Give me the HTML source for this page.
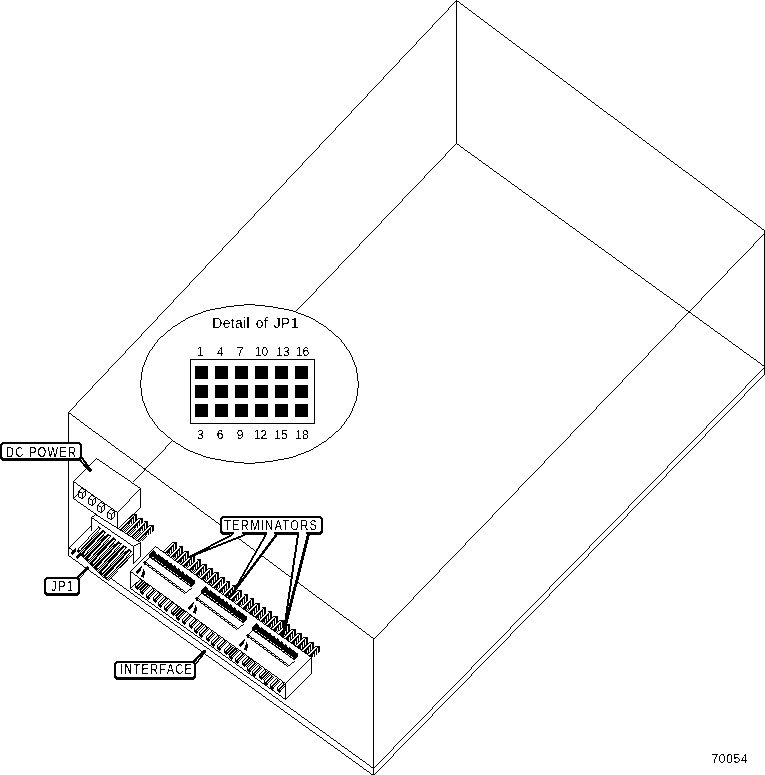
<!DOCTYPE html>
<html><head><meta charset="utf-8"><title>Detail of JP1</title>
<style>
html,body{margin:0;padding:0;background:#fff;}
body{width:765px;height:775px;overflow:hidden;}
svg{display:block;}
text{font-family:"Liberation Sans",sans-serif;fill:#000;stroke:none;filter:url(#crisp);}
</style></head><body>
<svg width="765" height="775" viewBox="0 0 765 775" shape-rendering="crispEdges">
<defs><filter id="crisp" x="-5%" y="-20%" width="110%" height="140%" color-interpolation-filters="sRGB"><feComponentTransfer><feFuncA type="discrete" tableValues="0 0 1 1"/></feComponentTransfer></filter></defs>
<rect x="0" y="0" width="765" height="775" fill="#fff"/>
<g id="enclosure">
<path d="M456 0h1m-2 1h4m-5 1h1m1 0h1m2 0h1m-7 1h1m2 0h1m3 0h1m-9 1h1m3 0h1m4 0h2m-12 1h1m4 0h1m6 0h1m-14 1h1m5 0h1m7 0h1m-16 1h1m6 0h1m8 0h2m-19 1h1m7 0h1m10 0h1m-20 1h1m7 0h1m11 0h1m-22 1h1m8 0h1m12 0h2m-25 1h1m9 0h1m14 0h1m-27 1h1m10 0h1m15 0h1m-29 1h1m11 0h1m16 0h2m-32 1h1m12 0h1m18 0h1m-34 1h1m13 0h1m19 0h1m-36 1h1m14 0h1m20 0h2m-39 1h1m15 0h1m22 0h1m-41 1h1m16 0h1m23 0h1m-43 1h1m17 0h1m24 0h2m-46 1h1m18 0h1m26 0h1m-48 1h1m19 0h1m27 0h1m-50 1h1m20 0h1m28 0h2m-53 1h1m21 0h1m30 0h1m-55 1h1m22 0h1m31 0h1m-57 1h1m23 0h1m32 0h2m-59 1h1m23 0h1m34 0h1m-61 1h1m24 0h1m35 0h1m-63 1h1m25 0h1m36 0h2m-66 1h1m26 0h1m38 0h1m-68 1h1m27 0h1m39 0h1m-70 1h1m28 0h1m40 0h2m-73 1h1m29 0h1m42 0h1m-75 1h1m30 0h1m43 0h1m-77 1h1m31 0h1m44 0h2m-80 1h1m32 0h1m46 0h1m-82 1h1m33 0h1m47 0h1m-84 1h1m34 0h1m48 0h2m-87 1h1m35 0h1m50 0h1m-89 1h1m36 0h1m51 0h1m-91 1h1m37 0h1m52 0h2m-94 1h1m38 0h1m54 0h1m-96 1h1m39 0h1m55 0h1m-97 1h1m39 0h1m56 0h2m-100 1h1m40 0h1m58 0h1m-102 1h1m41 0h1m59 0h1m-104 1h1m42 0h1m60 0h2m-107 1h1m43 0h1m62 0h1m-109 1h1m44 0h1m63 0h1m-111 1h1m45 0h1m64 0h2m-114 1h1m46 0h1m66 0h1m-116 1h1m47 0h1m67 0h1m-118 1h1m48 0h1m68 0h2m-121 1h1m49 0h1m70 0h1m-123 1h1m50 0h1m71 0h1m-125 1h1m51 0h1m72 0h2m-128 1h1m52 0h1m74 0h1m-130 1h1m53 0h1m75 0h2m-133 1h1m54 0h1m77 0h1m-135 1h1m55 0h1m78 0h1m-137 1h1m56 0h1m79 0h2m-139 1h1m56 0h1m81 0h1m-141 1h1m57 0h1m82 0h1m-143 1h1m58 0h1m83 0h2m-146 1h1m59 0h1m85 0h1m-148 1h1m60 0h1m86 0h1m-150 1h1m61 0h1m87 0h2m-153 1h1m62 0h1m89 0h1m-155 1h1m63 0h1m90 0h1m-157 1h1m64 0h1m91 0h2m-160 1h1m65 0h1m93 0h1m-162 1h1m66 0h1m94 0h1m-164 1h1m67 0h1m95 0h2m-167 1h1m68 0h1m97 0h1m-169 1h1m69 0h1m98 0h1m-171 1h1m70 0h1m99 0h2m-174 1h1m71 0h1m101 0h1m-176 1h1m72 0h1m102 0h1m-177 1h1m72 0h1m103 0h2m-180 1h1m73 0h1m105 0h1m-182 1h1m74 0h1m106 0h1m-184 1h1m75 0h1m107 0h2m-187 1h1m76 0h1m109 0h1m-189 1h1m77 0h1m110 0h1m-191 1h1m78 0h1m111 0h2m-194 1h1m79 0h1m113 0h1m-196 1h1m80 0h1m114 0h1m-198 1h1m81 0h1m115 0h2m-201 1h1m82 0h1m117 0h1m-203 1h1m83 0h1m118 0h1m-205 1h1m84 0h1m119 0h2m-208 1h1m85 0h1m121 0h1m-210 1h1m86 0h1m122 0h1m-212 1h1m87 0h1m123 0h2m-215 1h1m88 0h1m125 0h1m-216 1h1m88 0h1m126 0h1m-218 1h1m89 0h1m127 0h2m-221 1h1m90 0h1m129 0h1m-223 1h1m91 0h1m130 0h1m-225 1h1m92 0h1m131 0h2m-228 1h1m93 0h1m133 0h1m-230 1h1m94 0h1m134 0h1m-232 1h1m95 0h1m135 0h2m-235 1h1m96 0h1m137 0h1m-237 1h1m97 0h1m138 0h1m-239 1h1m98 0h1m139 0h2m-242 1h1m99 0h1m141 0h1m-244 1h1m100 0h1m142 0h1m-246 1h1m101 0h1m143 0h2m-249 1h1m102 0h1m145 0h1m-251 1h1m103 0h1m146 0h1m-253 1h1m104 0h1m147 0h2m-255 1h1m104 0h1m149 0h1m-257 1h1m105 0h1m150 0h1m-259 1h1m106 0h1m151 0h2m-262 1h1m107 0h1m153 0h1m-264 1h1m108 0h1m154 0h2m-267 1h1m109 0h1m156 0h1m-269 1h1m110 0h1m157 0h1m-271 1h1m111 0h1m158 0h2m-274 1h1m112 0h1m160 0h1m-276 1h1m113 0h1m161 0h1m-278 1h1m114 0h1m162 0h2m-281 1h1m115 0h1m164 0h1m-283 1h1m116 0h1m165 0h1m-285 1h1m117 0h1m166 0h2m-288 1h1m118 0h1m168 0h1m-290 1h1m119 0h1m169 0h1m-292 1h1m120 0h1m170 0h2m-294 1h1m120 0h1m172 0h1m-296 1h1m121 0h1m173 0h1m-298 1h1m122 0h1m174 0h2m-301 1h1m123 0h1m176 0h1m-303 1h1m124 0h1m177 0h1m-305 1h1m125 0h1m178 0h2m-308 1h1m126 0h1m180 0h1m-310 1h1m127 0h1m181 0h1m-312 1h1m128 0h1m182 0h2m-315 1h1m129 0h1m184 0h1m-317 1h1m130 0h1m185 0h1m-319 1h1m131 0h1m186 0h2m-322 1h1m132 0h1m188 0h1m-324 1h1m133 0h1m189 0h1m-326 1h1m134 0h1m190 0h2m-329 1h1m134 0h1m1 0h2m190 0h1m-331 1h1m134 0h1m4 0h1m190 0h1m-332 1h1m133 0h1m6 0h1m190 0h2m-335 1h1m133 0h1m8 0h2m190 0h1m-337 1h1m133 0h1m11 0h1m190 0h1m-339 1h1m133 0h1m13 0h1m190 0h2m-342 1h1m133 0h1m15 0h2m190 0h1m-344 1h1m133 0h1m18 0h1m190 0h1m-346 1h1m133 0h1m20 0h2m189 0h2m-349 1h1m133 0h1m23 0h1m190 0h1m-351 1h1m133 0h1m25 0h1m190 0h1m-353 1h1m134 0h1m26 0h2m189 0h2m-356 1h1m134 0h1m29 0h1m190 0h1m-358 1h1m134 0h1m31 0h2m189 0h1m-360 1h1m134 0h1m34 0h1m189 0h2m-363 1h1m134 0h1m36 0h1m190 0h1m-365 1h1m134 0h1m38 0h2m189 0h1m-367 1h1m134 0h1m41 0h1m189 0h2m-370 1h1m134 0h1m43 0h1m190 0h1m-372 1h1m134 0h1m45 0h2m189 0h1m-373 1h1m133 0h1m48 0h1m189 0h2m-376 1h1m133 0h1m50 0h2m189 0h1m-378 1h1m133 0h1m53 0h1m189 0h1m-380 1h1m133 0h1m55 0h1m189 0h2m-383 1h1m133 0h1m57 0h2m189 0h1m-385 1h1m133 0h1m60 0h1m189 0h1m-387 1h1m133 0h1m62 0h1m189 0h2m-390 1h1m133 0h1m64 0h2m189 0h1m-392 1h1m133 0h1m67 0h1m189 0h2m-395 1h1m133 0h1m69 0h2m189 0h1m-397 1h1m133 0h1m72 0h1m189 0h1m-399 1h1m133 0h1m74 0h1m189 0h2m-402 1h1m133 0h1m76 0h2m189 0h1m-404 1h1m134 0h1m78 0h1m189 0h1m-406 1h1m134 0h1m80 0h2m188 0h2m-409 1h1m134 0h1m83 0h1m189 0h1m-411 1h1m134 0h1m85 0h1m189 0h1m-412 1h1m133 0h1m87 0h2m188 0h2m-415 1h1m133 0h1m90 0h1m189 0h1m-417 1h1m133 0h1m92 0h1m189 0h1m-419 1h1m133 0h1m94 0h2m188 0h2m-422 1h1m133 0h1m97 0h1m189 0h1m-424 1h1m133 0h1m99 0h2m188 0h1m-426 1h1m133 0h1m102 0h1m188 0h2m-429 1h1m133 0h1m104 0h1m189 0h1m-431 1h1m133 0h1m106 0h2m188 0h1m-433 1h1m133 0h1m109 0h1m188 0h2m-436 1h1m133 0h1m111 0h1m189 0h1m-438 1h1m133 0h1m113 0h2m188 0h1m-440 1h1m133 0h1m116 0h1m188 0h2m-443 1h1m133 0h1m118 0h2m188 0h1m-445 1h1m133 0h1m121 0h1m188 0h1m-447 1h1m133 0h1m123 0h1m188 0h2m-450 1h1m133 0h1m125 0h2m188 0h1m-451 1h1m132 0h1m128 0h1m188 0h1m-453 1h1m132 0h1m130 0h2m187 0h2m-456 1h1m133 0h1m132 0h1m188 0h1m-458 1h1m133 0h1m134 0h1m188 0h1m-460 1h1m133 0h1m136 0h2m187 0h2m-463 1h1m133 0h1m139 0h1m188 0h1m-465 1h1m133 0h1m141 0h1m188 0h1m-467 1h1m133 0h1m143 0h2m187 0h2m-470 1h1m133 0h1m146 0h1m188 0h1m-472 1h1m133 0h1m148 0h2m187 0h1m-474 1h1m133 0h1m151 0h1m187 0h2m-477 1h1m133 0h1m153 0h1m188 0h1m-479 1h1m133 0h1m155 0h2m187 0h1m-481 1h1m133 0h1m158 0h1m187 0h2m-484 1h1m133 0h1m160 0h1m188 0h1m-486 1h1m133 0h1m162 0h2m187 0h1m-488 1h1m133 0h1m165 0h1m187 0h2m-490 1h1m132 0h1m167 0h2m187 0h1m-492 1h1m132 0h1m170 0h1m187 0h1m-494 1h1m132 0h1m172 0h1m187 0h2m-497 1h1m132 0h1m174 0h2m187 0h1m-499 1h1m132 0h1m177 0h1m187 0h1m-501 1h1m132 0h1m179 0h2m186 0h2m-504 1h1m132 0h1m182 0h1m187 0h1m-506 1h1m133 0h1m183 0h1m187 0h1m-508 1h1m133 0h1m185 0h2m186 0h2m-511 1h1m133 0h1m188 0h1m187 0h1m-513 1h1m133 0h1m190 0h1m187 0h1m-515 1h1m133 0h1m192 0h2m186 0h2m-518 1h1m133 0h1m195 0h1m187 0h1m-520 1h1m133 0h1m197 0h2m186 0h1m-522 1h1m133 0h1m200 0h1m186 0h2m-525 1h1m133 0h1m202 0h1m187 0h1m-527 1h1m133 0h1m204 0h2m185 0h1m1 0h1m-529 1h1m132 0h1m207 0h1m184 0h2m-529 1h1m132 0h1m209 0h1m183 0h1m-529 1h1m132 0h1m211 0h2m180 0h2m-530 1h1m132 0h1m214 0h1m178 0h1m1 0h1m-531 1h1m132 0h1m216 0h2m175 0h1m2 0h1m-532 1h1m132 0h1m219 0h1m173 0h1m3 0h1m-533 1h1m132 0h1m221 0h1m171 0h1m4 0h1m-534 1h1m132 0h1m223 0h2m168 0h1m5 0h1m-535 1h1m132 0h1m226 0h1m166 0h1m6 0h1m-536 1h1m132 0h1m228 0h2m163 0h1m7 0h1m-537 1h1m132 0h1m231 0h1m161 0h1m8 0h1m-538 1h1m132 0h1m233 0h1m159 0h1m9 0h1m-539 1h1m132 0h1m235 0h2m156 0h1m10 0h1m-540 1h1m133 0h1m237 0h1m155 0h1m10 0h1m-541 1h1m133 0h1m239 0h1m153 0h1m11 0h1m-542 1h1m133 0h1m241 0h2m150 0h1m12 0h1m-543 1h1m133 0h1m244 0h1m148 0h1m13 0h1m-543 1h1m132 0h1m246 0h2m145 0h1m14 0h1m-544 1h1m132 0h1m249 0h1m143 0h1m15 0h1m-545 1h1m132 0h1m251 0h1m141 0h1m16 0h1m-546 1h1m132 0h1m253 0h2m138 0h1m17 0h1m-547 1h1m132 0h1m256 0h1m136 0h1m18 0h1m-548 1h1m132 0h1m258 0h2m133 0h1m19 0h1m-549 1h1m132 0h1m261 0h1m131 0h1m20 0h1m-550 1h1m132 0h1m263 0h1m129 0h1m21 0h1m-551 1h1m132 0h1m265 0h2m126 0h1m22 0h1m-552 1h1m132 0h1m268 0h1m124 0h1m23 0h1m-553 1h1m132 0h1m270 0h1m122 0h1m24 0h1m-554 1h1m132 0h1m272 0h2m119 0h1m25 0h1m-555 1h1m132 0h1m275 0h1m117 0h1m26 0h1m-556 1h1m132 0h1m277 0h2m114 0h1m27 0h1m-557 1h1m132 0h1m280 0h1m112 0h1m28 0h1m-558 1h1m132 0h1m282 0h1m110 0h1m29 0h1m-559 1h1m132 0h1m284 0h2m107 0h1m30 0h1m-560 1h1m132 0h1m287 0h1m105 0h1m31 0h1m-560 1h1m132 0h1m288 0h1m103 0h1m32 0h1m-561 1h1m132 0h1m290 0h2m100 0h1m33 0h1m-562 1h1m132 0h1m293 0h1m98 0h1m34 0h1m-563 1h1m132 0h1m295 0h2m95 0h1m35 0h1m-564 1h1m132 0h1m298 0h1m93 0h1m36 0h1m-565 1h1m132 0h1m300 0h1m92 0h1m36 0h1m-566 1h1m132 0h1m302 0h2m89 0h1m37 0h1m-567 1h1m132 0h1m305 0h1m87 0h1m38 0h1m-568 1h1m132 0h1m307 0h2m84 0h1m39 0h1m-569 1h1m132 0h1m310 0h1m82 0h1m40 0h1m-570 1h1m132 0h1m312 0h1m80 0h1m41 0h1m-571 1h1m132 0h1m314 0h2m77 0h1m42 0h1m-572 1h1m132 0h1m317 0h1m75 0h1m43 0h1m-573 1h1m132 0h1m319 0h1m73 0h1m44 0h1m-574 1h1m132 0h1m321 0h2m70 0h1m45 0h1m-575 1h1m132 0h1m324 0h1m68 0h1m46 0h1m-576 1h1m132 0h1m326 0h2m65 0h1m47 0h1m-576 1h1m131 0h1m329 0h1m63 0h1m48 0h1m-577 1h1m131 0h1m331 0h1m61 0h1m49 0h1m-578 1h1m131 0h1m333 0h2m58 0h1m50 0h1m-579 1h1m131 0h1m336 0h1m56 0h1m51 0h1m-580 1h1m131 0h1m338 0h1m54 0h1m52 0h1m-581 1h1m131 0h1m340 0h2m51 0h1m53 0h1m-582 1h1m132 0h1m342 0h1m49 0h1m54 0h1m-583 1h1m132 0h1m344 0h2m46 0h1m55 0h1m-584 1h1m132 0h1m347 0h1m44 0h1m56 0h1m-585 1h1m132 0h1m349 0h1m42 0h1m57 0h1m-586 1h1m132 0h1m351 0h2m39 0h1m58 0h1m-587 1h1m132 0h1m354 0h1m37 0h1m59 0h1m-588 1h1m132 0h1m356 0h2m34 0h1m60 0h1m-589 1h1m132 0h1m359 0h1m32 0h1m61 0h1m-590 1h1m132 0h1m361 0h1m30 0h1m62 0h1m-591 1h1m132 0h1m363 0h2m28 0h1m62 0h1m-592 1h1m132 0h1m366 0h1m26 0h1m63 0h1m-592 1h1m131 0h1m368 0h1m24 0h1m64 0h1m-593 1h1m131 0h1m370 0h2m21 0h1m65 0h1m-594 1h1m131 0h1m373 0h1m19 0h1m66 0h1m-595 1h1m131 0h1m375 0h2m16 0h1m67 0h1m-596 1h1m131 0h1m378 0h1m14 0h1m68 0h1m-597 1h1m131 0h1m380 0h1m12 0h1m69 0h1m-598 1h1m131 0h1m382 0h2m9 0h1m70 0h1m-599 1h1m131 0h1m385 0h1m7 0h1m71 0h1m-600 1h1m131 0h1m387 0h1m5 0h1m72 0h1m-601 1h1m131 0h1m389 0h2m2 0h1m73 0h1m-602 1h1m131 0h1m392 0h2m74 0h1m-603 1h1m132 0h1m392 0h3m73 0h1m-604 1h1m132 0h1m392 0h1m3 0h1m72 0h1m-605 1h1m132 0h1m392 0h1m5 0h1m71 0h1m-606 1h1m132 0h1m392 0h1m7 0h2m69 0h1m-607 1h1m132 0h1m392 0h1m10 0h1m68 0h1m-608 1h1m132 0h1m392 0h1m12 0h2m66 0h1m-608 1h1m131 0h1m392 0h1m15 0h1m65 0h1m-609 1h1m131 0h1m392 0h1m17 0h1m64 0h1m-610 1h1m131 0h1m392 0h1m19 0h2m62 0h1m-611 1h1m131 0h1m392 0h1m22 0h1m61 0h1m-612 1h1m131 0h1m392 0h1m24 0h1m60 0h1m-613 1h1m131 0h1m392 0h1m26 0h2m58 0h1m-614 1h1m131 0h1m392 0h1m29 0h1m57 0h1m-615 1h1m131 0h1m392 0h1m31 0h2m55 0h1m-616 1h1m131 0h1m393 0h1m33 0h1m54 0h1m-617 1h1m131 0h1m393 0h1m35 0h1m53 0h1m-618 1h1m131 0h1m393 0h1m37 0h2m51 0h1m-619 1h1m131 0h1m393 0h1m40 0h1m50 0h1m-620 1h1m131 0h1m393 0h1m42 0h1m49 0h1m-621 1h1m131 0h1m393 0h1m44 0h2m47 0h1m-622 1h1m131 0h1m393 0h1m47 0h1m46 0h1m-623 1h1m131 0h1m393 0h1m49 0h2m44 0h1m-624 1h1m131 0h1m393 0h1m52 0h1m43 0h1m-624 1h1m131 0h1m392 0h1m54 0h1m42 0h1m-625 1h1m131 0h1m392 0h1m56 0h2m40 0h1m-626 1h1m131 0h1m392 0h1m59 0h1m39 0h1m-627 1h1m131 0h1m392 0h1m61 0h2m37 0h1m-628 1h1m131 0h1m392 0h1m64 0h1m36 0h1m-629 1h1m131 0h1m392 0h1m66 0h1m35 0h1m-630 1h1m131 0h1m392 0h1m68 0h2m33 0h1m-631 1h1m131 0h1m392 0h1m71 0h1m32 0h1m-632 1h1m131 0h1m392 0h1m73 0h1m31 0h1m-633 1h1m131 0h1m392 0h1m75 0h2m29 0h1m-634 1h1m131 0h1m392 0h1m78 0h1m28 0h1m-635 1h1m131 0h1m392 0h1m80 0h2m26 0h1m-636 1h1m131 0h1m392 0h1m83 0h1m25 0h1m-637 1h1m131 0h1m392 0h1m85 0h1m24 0h1m-638 1h1m131 0h1m392 0h1m87 0h2m22 0h1m-639 1h1m131 0h1m392 0h1m90 0h1m21 0h1m-640 1h1m131 0h1m392 0h1m92 0h1m20 0h1m-640 1h1m130 0h1m392 0h1m94 0h2m18 0h1m-641 1h1m130 0h1m392 0h1m97 0h1m17 0h1m-642 1h1m130 0h1m393 0h1m98 0h2m15 0h1m-643 1h1m130 0h1m393 0h1m101 0h1m14 0h1m-644 1h1m130 0h1m393 0h1m103 0h1m13 0h1m-645 1h1m130 0h1m393 0h1m105 0h2m11 0h1m-646 1h1m131 0h1m392 0h1m108 0h1m10 0h1m-647 1h1m131 0h1m392 0h1m110 0h2m8 0h1m-648 1h1m131 0h1m392 0h1m113 0h1m7 0h1m-649 1h1m131 0h1m392 0h1m115 0h1m6 0h1m-650 1h1m131 0h1m392 0h1m117 0h2m4 0h1m-651 1h1m131 0h1m392 0h1m120 0h1m3 0h1m-652 1h1m131 0h1m392 0h1m122 0h1m2 0h1m-653 1h1m131 0h1m392 0h1m124 0h3m-654 1h1m131 0h1m392 0h1m127 0h2m-656 1h1m131 0h1m392 0h1m128 0h1m-656 1h1m131 0h1m392 0h1m128 0h2m-657 1h1m131 0h1m392 0h1m128 0h1m1 0h1m-657 1h1m130 0h1m392 0h1m128 0h1m2 0h1m-658 1h1m130 0h1m392 0h1m128 0h1m3 0h1m-659 1h1m130 0h1m392 0h1m128 0h1m4 0h1m-660 1h1m130 0h1m392 0h1m128 0h1m5 0h1m-661 1h1m130 0h1m392 0h1m128 0h1m6 0h1m-662 1h1m130 0h1m392 0h1m128 0h1m6 0h1m-662 1h1m130 0h1m392 0h1m128 0h1m6 0h1m-662 1h1m130 0h1m392 0h1m128 0h1m6 0h1m-662 1h1m130 0h1m392 0h1m128 0h1m6 0h1m-662 1h1m130 0h1m392 0h1m128 0h1m6 0h1m-662 1h1m131 0h1m391 0h1m128 0h1m6 0h1m-662 1h1m131 0h1m392 0h1m127 0h1m6 0h1m-662 1h1m131 0h1m392 0h1m127 0h1m6 0h1m-662 1h1m131 0h1m392 0h1m127 0h1m6 0h1m-662 1h1m131 0h1m392 0h1m127 0h1m6 0h1m-662 1h1m131 0h1m392 0h1m127 0h1m6 0h1m-662 1h1m131 0h1m392 0h1m127 0h1m6 0h1m-661 1h1m130 0h1m392 0h1m128 0h1m5 0h1m-661 1h1m130 0h1m392 0h1m128 0h1m5 0h1m-661 1h1m130 0h1m392 0h1m128 0h1m5 0h1m-661 1h1m130 0h1m392 0h1m128 0h1m5 0h1m-661 1h1m130 0h1m392 0h1m128 0h1m5 0h1m-661 1h1m130 0h1m392 0h1m128 0h1m5 0h1m-661 1h1m130 0h1m392 0h1m128 0h1m5 0h1m-661 1h1m130 0h1m392 0h1m128 0h1m5 0h1m-661 1h1m130 0h1m392 0h1m128 0h1m6 0h1m-662 1h1m130 0h1m392 0h1m128 0h1m6 0h1m-662 1h1m130 0h1m392 0h1m128 0h1m6 0h1m-662 1h1m130 0h1m392 0h1m128 0h1m6 0h1m-662 1h1m130 0h1m392 0h1m128 0h1m6 0h1m-662 1h1m130 0h1m392 0h1m128 0h1m6 0h1m-662 1h1m130 0h1m392 0h1m128 0h1m6 0h1m-662 1h1m130 0h1m392 0h1m128 0h1m6 0h1m-662 1h1m131 0h1m391 0h1m128 0h1m6 0h1m-661 1h1m130 0h1m391 0h1m128 0h1m6 0h1m-661 1h1m130 0h1m391 0h1m128 0h1m6 0h1m-661 1h1m130 0h1m391 0h1m128 0h1m6 0h1m-661 1h1m130 0h1m391 0h1m128 0h1m6 0h1m-661 1h1m130 0h1m392 0h1m127 0h1m6 0h1m-661 1h1m130 0h1m392 0h1m127 0h1m6 0h1m-661 1h1m130 0h1m392 0h1m127 0h1m6 0h1m-661 1h1m130 0h1m392 0h1m127 0h1m6 0h1m-661 1h1m130 0h1m392 0h1m127 0h1m6 0h1m-660 1h3m127 0h1m392 0h1m127 0h1m6 0h1m-659 1h1m2 0h1m125 0h1m392 0h1m127 0h1m6 0h1m-658 1h1m3 0h1m123 0h1m392 0h1m127 0h1m6 0h1m-657 1h1m4 0h2m120 0h1m392 0h1m127 0h1m6 0h1m-656 1h1m6 0h1m118 0h1m392 0h1m127 0h1m6 0h1m-655 1h1m7 0h1m116 0h1m392 0h1m127 0h1m6 0h1m-654 1h1m8 0h2m113 0h1m392 0h1m127 0h1m6 0h1m-653 1h1m10 0h1m111 0h1m392 0h1m127 0h1m6 0h1m-652 1h1m11 0h1m109 0h1m392 0h1m127 0h1m6 0h1m-651 1h1m12 0h2m106 0h1m392 0h1m127 0h1m6 0h1m-650 1h1m14 0h1m104 0h1m392 0h1m127 0h1m6 0h1m-649 1h1m15 0h1m102 0h1m392 0h1m127 0h1m6 0h1m-648 1h1m16 0h2m100 0h1m391 0h1m127 0h1m6 0h1m-647 1h1m18 0h1m98 0h1m391 0h1m127 0h1m6 0h1m-646 1h1m19 0h1m96 0h1m391 0h1m128 0h1m5 0h1m-645 1h1m20 0h2m93 0h1m391 0h1m128 0h1m5 0h1m-644 1h1m22 0h1m91 0h1m391 0h1m128 0h1m5 0h1m-643 1h1m23 0h1m89 0h1m391 0h1m128 0h1m5 0h1m-642 1h1m24 0h2m86 0h1m391 0h1m128 0h1m5 0h1m-641 1h1m26 0h1m84 0h1m391 0h1m128 0h1m5 0h1m-640 1h1m27 0h2m81 0h1m391 0h1m128 0h1m5 0h1m-639 1h1m29 0h1m79 0h1m391 0h1m128 0h1m5 0h1m-638 1h1m30 0h1m77 0h1m392 0h1m127 0h1m6 0h1m-638 1h1m31 0h2m74 0h1m392 0h1m127 0h1m6 0h1m-637 1h1m33 0h1m72 0h1m392 0h1m127 0h1m6 0h1m-636 1h1m34 0h1m70 0h1m392 0h1m127 0h1m6 0h1m-635 1h1m35 0h2m67 0h1m392 0h1m127 0h1m6 0h1m-634 1h1m37 0h1m65 0h1m392 0h1m127 0h1m6 0h1m-633 1h1m38 0h1m63 0h1m392 0h1m127 0h1m6 0h1m-632 1h1m39 0h2m60 0h1m392 0h1m127 0h1m6 0h1m-631 1h1m41 0h1m58 0h1m392 0h1m127 0h1m6 0h1m-630 1h1m42 0h1m56 0h1m392 0h1m127 0h1m6 0h1m-629 1h1m43 0h2m53 0h1m392 0h1m127 0h1m6 0h1m-628 1h1m45 0h1m51 0h1m392 0h1m127 0h1m6 0h1m-627 1h1m46 0h1m49 0h1m392 0h1m127 0h1m6 0h1m-626 1h1m47 0h2m47 0h1m391 0h1m127 0h1m6 0h1m-625 1h1m49 0h1m45 0h1m391 0h1m127 0h1m6 0h1m-624 1h1m50 0h1m43 0h1m391 0h1m127 0h1m6 0h1m-623 1h1m51 0h2m40 0h1m391 0h1m127 0h1m6 0h1m-622 1h1m53 0h1m38 0h1m391 0h1m127 0h1m6 0h1m-621 1h1m54 0h2m35 0h1m391 0h1m127 0h1m6 0h1m-620 1h1m56 0h1m33 0h1m391 0h1m127 0h1m6 0h1m-619 1h1m57 0h1m31 0h1m391 0h1m127 0h1m6 0h1m-618 1h1m58 0h2m28 0h1m391 0h1m127 0h1m6 0h1m-617 1h1m60 0h1m26 0h1m391 0h1m127 0h1m6 0h1m-616 1h1m61 0h1m24 0h1m391 0h1m127 0h1m6 0h1m-615 1h1m62 0h2m21 0h1m391 0h1m127 0h1m6 0h1m-614 1h1m64 0h1m19 0h1m391 0h1m127 0h1m6 0h1m-613 1h1m65 0h1m17 0h1m391 0h1m127 0h1m6 0h1m-612 1h1m66 0h2m14 0h1m392 0h1m126 0h1m6 0h1m-611 1h1m68 0h1m12 0h1m392 0h1m126 0h1m6 0h1m-610 1h1m69 0h1m10 0h1m392 0h1m126 0h1m6 0h1m-609 1h1m70 0h2m7 0h1m392 0h1m126 0h1m6 0h1m-608 1h1m72 0h1m5 0h1m392 0h1m126 0h1m6 0h1m-607 1h1m73 0h1m3 0h1m392 0h1m127 0h1m5 0h1m-606 1h1m74 0h3m392 0h1m127 0h1m5 0h1m-605 1h1m75 0h2m391 0h1m127 0h1m5 0h1m-604 1h1m75 0h1m1 0h1m389 0h1m127 0h1m5 0h1m-603 1h1m74 0h1m3 0h2m386 0h1m127 0h1m5 0h1m-602 1h1m73 0h1m6 0h1m384 0h1m127 0h1m5 0h1m-601 1h1m72 0h1m8 0h1m382 0h1m127 0h1m5 0h1m-600 1h1m71 0h1m10 0h2m379 0h1m127 0h1m5 0h1m-599 1h1m70 0h1m13 0h1m377 0h1m127 0h1m6 0h1m-599 1h1m69 0h1m15 0h2m374 0h1m127 0h1m6 0h1m-598 1h1m68 0h1m18 0h1m372 0h1m127 0h1m6 0h1m-597 1h1m67 0h1m20 0h1m370 0h1m127 0h1m6 0h1m-596 1h1m66 0h1m22 0h2m367 0h1m127 0h1m6 0h1m-595 1h1m65 0h1m25 0h1m365 0h1m127 0h1m6 0h1m-594 1h1m64 0h1m27 0h1m363 0h1m127 0h1m6 0h1m-593 1h1m93 0h2m360 0h1m127 0h1m6 0h1m-592 1h1m95 0h1m358 0h1m127 0h1m6 0h1m-591 1h1m96 0h1m356 0h1m127 0h1m6 0h1m-590 1h1m97 0h2m353 0h1m127 0h1m6 0h1m-589 1h1m99 0h1m351 0h1m127 0h1m6 0h1m-588 1h1m100 0h1m349 0h1m127 0h1m6 0h1m-587 1h1m101 0h2m346 0h1m127 0h1m6 0h1m-586 1h1m103 0h1m345 0h1m126 0h1m6 0h1m-585 1h1m104 0h1m343 0h1m126 0h1m6 0h1m-584 1h1m105 0h2m340 0h1m126 0h1m6 0h1m-583 1h1m107 0h1m338 0h1m126 0h1m6 0h1m-582 1h1m108 0h1m336 0h1m126 0h1m6 0h1m-581 1h1m109 0h2m333 0h1m126 0h1m6 0h1m-580 1h1m111 0h1m331 0h1m126 0h1m6 0h1m-579 1h1m112 0h2m328 0h1m126 0h1m6 0h1m-578 1h1m114 0h1m326 0h1m126 0h1m6 0h1m-577 1h1m115 0h1m324 0h1m126 0h1m6 0h1m-576 1h1m116 0h2m321 0h1m126 0h1m6 0h1m-575 1h1m118 0h1m319 0h1m126 0h1m6 0h1m-574 1h1m119 0h1m317 0h1m126 0h1m6 0h1m-573 1h1m120 0h2m314 0h1m126 0h1m6 0h1m-572 1h1m122 0h1m312 0h1m126 0h1m6 0h1m-571 1h1m123 0h1m310 0h1m126 0h1m6 0h1m-570 1h1m124 0h2m307 0h1m126 0h1m6 0h1m-569 1h1m126 0h1m305 0h1m126 0h1m6 0h1m-568 1h1m127 0h1m303 0h1m127 0h1m5 0h1m-567 1h1m128 0h2m300 0h1m127 0h1m5 0h1m-566 1h1m130 0h1m298 0h1m127 0h1m5 0h1m-565 1h1m131 0h1m296 0h1m127 0h1m5 0h1m-564 1h1m132 0h2m293 0h1m127 0h1m5 0h1m-563 1h1m134 0h1m291 0h1m127 0h1m5 0h1m-562 1h1m135 0h1m289 0h1m127 0h1m5 0h1m-561 1h1m136 0h2m286 0h1m127 0h1m5 0h1m-560 1h1m138 0h1m284 0h1m127 0h1m6 0h1m-560 1h1m139 0h2m282 0h1m126 0h1m6 0h1m-559 1h1m141 0h1m280 0h1m126 0h1m6 0h1m-558 1h1m142 0h1m278 0h1m126 0h1m6 0h1m-557 1h1m143 0h2m275 0h1m126 0h1m6 0h1m-556 1h1m145 0h1m273 0h1m126 0h1m6 0h1m-555 1h1m146 0h1m271 0h1m126 0h1m6 0h1m-554 1h1m147 0h2m268 0h1m126 0h1m6 0h1m-553 1h1m149 0h1m266 0h1m126 0h1m6 0h1m-552 1h1m150 0h1m264 0h1m126 0h1m6 0h1m-551 1h1m151 0h2m261 0h1m126 0h1m6 0h1m-550 1h1m153 0h1m259 0h1m126 0h1m6 0h1m-549 1h1m154 0h1m257 0h1m126 0h1m6 0h1m-548 1h1m155 0h2m254 0h1m126 0h1m6 0h1m-547 1h1m157 0h1m252 0h1m126 0h1m6 0h1m-546 1h1m158 0h1m250 0h1m126 0h1m6 0h1m-545 1h1m159 0h2m247 0h1m126 0h1m6 0h1m-544 1h1m161 0h1m245 0h1m126 0h1m6 0h1m-543 1h1m162 0h1m243 0h1m126 0h1m6 0h1m-542 1h1m163 0h2m240 0h1m126 0h1m6 0h1m-541 1h1m165 0h1m238 0h1m126 0h1m6 0h1m-540 1h1m166 0h2m235 0h1m126 0h1m6 0h1m-539 1h1m168 0h1m233 0h1m126 0h1m6 0h1m-538 1h1m169 0h1m231 0h1m126 0h1m6 0h1m-537 1h1m170 0h2m228 0h1m126 0h1m6 0h1m-536 1h1m172 0h1m226 0h1m126 0h1m6 0h1m-535 1h1m173 0h1m224 0h1m126 0h1m6 0h1m-534 1h1m174 0h2m221 0h1m126 0h1m6 0h1m-533 1h1m176 0h1m219 0h1m126 0h1m6 0h1m-532 1h1m177 0h1m218 0h1m125 0h1m6 0h1m-531 1h1m178 0h2m215 0h1m125 0h1m6 0h1m-530 1h1m180 0h1m213 0h1m125 0h1m6 0h1m-529 1h1m181 0h1m211 0h1m126 0h1m5 0h1m-528 1h3m180 0h2m208 0h1m126 0h1m5 0h1m-527 1h1m2 0h1m181 0h1m206 0h1m126 0h1m5 0h1m-526 1h1m3 0h1m181 0h1m204 0h1m126 0h1m5 0h1m-525 1h1m4 0h2m180 0h2m201 0h1m126 0h1m5 0h1m-524 1h1m6 0h1m181 0h1m199 0h1m126 0h1m5 0h1m-523 1h1m7 0h1m181 0h1m197 0h1m126 0h1m5 0h1m-522 1h1m8 0h2m180 0h2m194 0h1m126 0h1m5 0h1m-521 1h1m10 0h1m181 0h1m192 0h1m126 0h1m6 0h1m-520 1h2m9 0h2m180 0h2m189 0h1m126 0h1m6 0h1m-517 1h1m10 0h1m181 0h1m187 0h1m126 0h1m6 0h1m-515 1h1m10 0h1m181 0h1m185 0h1m126 0h1m6 0h1m-513 1h2m9 0h2m180 0h2m182 0h1m126 0h1m6 0h1m-510 1h1m10 0h1m181 0h1m180 0h1m126 0h1m6 0h1m-508 1h2m9 0h2m180 0h1m178 0h1m126 0h1m6 0h1m-505 1h1m10 0h1m180 0h2m175 0h1m126 0h1m6 0h1m-503 1h1m10 0h1m181 0h1m173 0h1m126 0h1m6 0h1m-501 1h2m9 0h2m180 0h1m171 0h1m126 0h1m6 0h1m-498 1h1m10 0h1m180 0h2m168 0h1m126 0h1m6 0h1m-496 1h1m10 0h1m181 0h1m166 0h1m126 0h1m6 0h1m-494 1h2m9 0h2m180 0h1m164 0h1m126 0h1m6 0h1m-491 1h1m10 0h1m180 0h2m161 0h1m126 0h1m6 0h1m-489 1h2m9 0h2m180 0h1m159 0h1m126 0h1m6 0h1m-486 1h1m10 0h1m180 0h1m157 0h1m126 0h1m6 0h1m-484 1h1m10 0h1m180 0h2m155 0h1m125 0h1m6 0h1m-482 1h2m9 0h2m180 0h1m153 0h1m125 0h1m6 0h1m-479 1h1m10 0h1m180 0h1m151 0h1m125 0h1m6 0h1m-477 1h2m9 0h1m180 0h2m148 0h1m125 0h1m6 0h1m-474 1h1m9 0h2m180 0h1m146 0h1m125 0h1m6 0h1m-472 1h1m10 0h1m180 0h2m143 0h1m125 0h1m6 0h1m-470 1h2m9 0h2m180 0h1m141 0h1m125 0h1m6 0h1m-467 1h1m10 0h1m180 0h1m139 0h1m125 0h1m6 0h1m-465 1h1m10 0h1m180 0h2m136 0h1m125 0h1m6 0h1m-463 1h2m9 0h2m180 0h1m134 0h1m125 0h1m6 0h1m-460 1h1m10 0h1m180 0h1m132 0h1m125 0h1m6 0h1m-458 1h2m9 0h1m180 0h2m129 0h1m125 0h1m6 0h1m-455 1h1m9 0h2m180 0h1m127 0h1m125 0h1m6 0h1m-453 1h1m10 0h1m180 0h1m125 0h1m125 0h1m6 0h1m-451 1h2m9 0h2m179 0h2m122 0h1m125 0h1m6 0h1m-448 1h1m10 0h1m180 0h1m120 0h1m125 0h1m6 0h1m-446 1h2m9 0h1m180 0h1m118 0h1m125 0h1m6 0h1m-443 1h1m9 0h2m179 0h2m115 0h1m126 0h1m5 0h1m-441 1h1m10 0h1m180 0h1m113 0h1m126 0h1m5 0h1m-439 1h2m9 0h2m179 0h1m111 0h1m126 0h1m5 0h1m-436 1h1m10 0h1m179 0h2m108 0h1m126 0h1m5 0h1m-434 1h1m10 0h1m180 0h1m106 0h1m126 0h1m5 0h1m-432 1h2m9 0h2m179 0h1m104 0h1m126 0h1m5 0h1m-429 1h1m10 0h1m179 0h2m101 0h1m126 0h1m5 0h1m-427 1h2m9 0h1m180 0h1m99 0h1m126 0h1m6 0h1m-425 1h1m9 0h2m179 0h1m97 0h1m126 0h1m6 0h1m-423 1h1m10 0h1m179 0h2m94 0h1m126 0h1m6 0h1m-421 1h2m9 0h2m179 0h1m93 0h1m125 0h1m6 0h1m-418 1h1m10 0h1m179 0h2m90 0h1m125 0h1m6 0h1m-416 1h2m9 0h1m180 0h1m88 0h1m125 0h1m6 0h1m-413 1h1m9 0h2m179 0h1m86 0h1m125 0h1m6 0h1m-411 1h1m10 0h1m179 0h2m83 0h1m125 0h1m6 0h1m-409 1h2m9 0h1m180 0h1m81 0h1m125 0h1m6 0h1m-406 1h1m9 0h2m179 0h1m79 0h1m125 0h1m6 0h1m-404 1h2m9 0h1m179 0h2m76 0h1m125 0h1m6 0h1m-401 1h1m9 0h2m179 0h1m74 0h1m125 0h1m6 0h1m-399 1h1m10 0h1m179 0h1m72 0h1m125 0h1m6 0h1m-397 1h2m9 0h1m179 0h2m69 0h1m125 0h1m6 0h1m-394 1h1m9 0h2m179 0h1m67 0h1m125 0h1m6 0h1m-392 1h1m10 0h1m179 0h1m65 0h1m125 0h1m6 0h1m-390 1h2m9 0h2m178 0h2m62 0h1m125 0h1m6 0h1m-387 1h1m10 0h1m179 0h1m60 0h1m125 0h1m6 0h1m-385 1h2m9 0h1m179 0h1m58 0h1m125 0h1m6 0h1m-382 1h1m9 0h2m178 0h2m55 0h1m125 0h1m6 0h1m-380 1h1m10 0h1m179 0h1m53 0h1m125 0h1m6 0h1m-378 1h2m9 0h1m179 0h1m51 0h1m125 0h1m6 0h1m-375 1h1m9 0h2m178 0h2m48 0h1m125 0h1m6 0h1m-373 1h2m9 0h1m179 0h1m46 0h1m125 0h1m6 0h1m-370 1h1m9 0h2m178 0h2m43 0h1m125 0h1m6 0h1m-368 1h1m10 0h1m179 0h1m41 0h1m125 0h1m6 0h1m-366 1h2m9 0h1m179 0h1m39 0h1m125 0h1m6 0h1m-363 1h1m9 0h2m178 0h2m36 0h1m125 0h1m6 0h1m-361 1h1m10 0h1m179 0h1m34 0h1m125 0h1m6 0h1m-359 1h2m9 0h1m179 0h1m32 0h1m125 0h1m6 0h1m-356 1h1m9 0h2m178 0h2m30 0h1m124 0h1m6 0h1m-354 1h2m9 0h1m179 0h1m28 0h1m124 0h1m6 0h1m-351 1h1m9 0h2m178 0h1m26 0h1m124 0h1m6 0h1m-349 1h1m10 0h1m178 0h2m23 0h1m125 0h1m5 0h1m-347 1h2m9 0h1m179 0h1m21 0h1m125 0h1m5 0h1m-344 1h1m9 0h2m178 0h1m19 0h1m125 0h1m5 0h1m-342 1h2m9 0h1m178 0h2m16 0h1m125 0h1m5 0h1m-339 1h1m9 0h1m179 0h1m14 0h1m125 0h1m5 0h1m-337 1h1m9 0h2m178 0h1m12 0h1m125 0h1m5 0h1m-335 1h2m9 0h1m178 0h2m9 0h1m125 0h1m5 0h1m-332 1h1m9 0h2m178 0h1m7 0h1m125 0h1m6 0h1m-331 1h1m10 0h1m178 0h1m5 0h1m125 0h1m6 0h1m-329 1h2m9 0h1m178 0h2m2 0h1m125 0h1m6 0h1m-326 1h1m9 0h2m178 0h2m125 0h1m6 0h1m-324 1h2m9 0h1m177 0h1m125 0h1m6 0h1m-321 1h1m9 0h2m175 0h1m124 0h1m6 0h1m-319 1h1m10 0h1m174 0h1m123 0h1m6 0h1m-317 1h2m9 0h1m173 0h1m122 0h1m6 0h1m-314 1h1m9 0h2m171 0h1m121 0h1m6 0h1m-312 1h2m9 0h1m170 0h1m120 0h1m6 0h1m-309 1h1m9 0h1m169 0h1m119 0h1m6 0h1m-307 1h1m9 0h2m167 0h1m118 0h1m6 0h1m-305 1h2m9 0h1m166 0h1m117 0h1m6 0h1m-302 1h1m9 0h2m164 0h1m116 0h1m6 0h1m-300 1h2m9 0h1m163 0h1m115 0h1m6 0h1m-297 1h1m9 0h1m162 0h1m114 0h1m6 0h1m-295 1h1m9 0h2m160 0h1m113 0h1m6 0h1m-293 1h2m9 0h1m159 0h1m112 0h1m6 0h1m-290 1h1m9 0h1m158 0h1m111 0h1m6 0h1m-288 1h1m9 0h2m156 0h1m110 0h1m6 0h1m-286 1h2m9 0h1m155 0h1m109 0h1m6 0h1m-283 1h1m9 0h2m153 0h1m108 0h1m6 0h1m-281 1h2m9 0h1m152 0h1m107 0h1m6 0h1m-278 1h1m9 0h1m151 0h1m106 0h1m6 0h1m-276 1h1m9 0h2m149 0h1m105 0h1m6 0h1m-274 1h2m9 0h1m148 0h1m104 0h1m6 0h1m-271 1h1m9 0h2m146 0h1m103 0h1m6 0h1m-269 1h2m9 0h1m145 0h1m102 0h1m6 0h1m-266 1h1m9 0h1m144 0h1m101 0h1m6 0h1m-264 1h1m9 0h2m142 0h1m100 0h1m6 0h1m-262 1h2m9 0h1m141 0h1m99 0h1m6 0h1m-259 1h1m9 0h1m140 0h1m98 0h1m6 0h1m-257 1h1m9 0h2m138 0h1m97 0h1m6 0h1m-255 1h2m9 0h1m137 0h1m97 0h1m5 0h1m-252 1h1m9 0h2m135 0h1m96 0h1m5 0h1m-250 1h2m9 0h1m134 0h1m95 0h1m5 0h1m-247 1h1m9 0h1m133 0h1m94 0h1m5 0h1m-245 1h1m9 0h2m131 0h1m93 0h1m5 0h1m-243 1h2m9 0h1m130 0h1m92 0h1m5 0h1m-240 1h1m9 0h1m129 0h1m91 0h1m5 0h1m-238 1h2m8 0h2m127 0h1m90 0h1m6 0h1m-236 1h1m9 0h1m126 0h1m89 0h1m6 0h1m-234 1h1m9 0h2m124 0h1m88 0h1m6 0h1m-232 1h2m9 0h1m123 0h1m87 0h1m6 0h1m-229 1h1m9 0h1m122 0h1m86 0h1m6 0h1m-227 1h1m9 0h2m120 0h1m85 0h1m6 0h1m-225 1h2m9 0h1m119 0h1m84 0h1m6 0h1m-222 1h1m9 0h2m117 0h1m83 0h1m6 0h1m-220 1h2m9 0h1m116 0h1m82 0h1m6 0h1m-217 1h1m9 0h1m115 0h1m81 0h1m6 0h1m-215 1h1m9 0h2m113 0h1m80 0h1m6 0h1m-213 1h2m9 0h1m112 0h1m79 0h1m6 0h1m-210 1h1m9 0h1m111 0h1m78 0h1m6 0h1m-208 1h2m8 0h2m109 0h1m77 0h1m6 0h1m-205 1h1m9 0h1m108 0h1m76 0h1m6 0h1m-203 1h1m9 0h2m106 0h1m75 0h1m6 0h1m-201 1h2m9 0h1m105 0h1m74 0h1m6 0h1m-198 1h1m9 0h1m104 0h1m73 0h1m6 0h1m-196 1h2m8 0h2m102 0h1m72 0h1m6 0h1m-193 1h1m9 0h1m101 0h1m71 0h1m6 0h1m-191 1h1m9 0h1m100 0h1m70 0h1m6 0h1m-189 1h2m8 0h2m98 0h1m69 0h1m6 0h1m-186 1h1m9 0h1m97 0h1m68 0h1m6 0h1m-184 1h1m9 0h2m95 0h1m67 0h1m6 0h1m-182 1h2m9 0h1m94 0h1m66 0h1m6 0h1m-179 1h1m9 0h1m93 0h1m65 0h1m6 0h1m-177 1h2m8 0h2m91 0h1m64 0h1m6 0h1m-174 1h1m9 0h1m90 0h1m63 0h1m6 0h1m-172 1h1m9 0h1m89 0h1m62 0h1m6 0h1m-170 1h2m8 0h2m87 0h1m61 0h1m6 0h1m-167 1h1m9 0h1m86 0h1m60 0h1m6 0h1m-165 1h2m8 0h2m84 0h1m59 0h1m6 0h1m-162 1h1m9 0h1m83 0h1m58 0h1m6 0h1m-160 1h1m9 0h1m82 0h1m58 0h1m5 0h1m-158 1h2m8 0h2m80 0h1m57 0h1m5 0h1m-155 1h1m9 0h1m79 0h1m56 0h1m5 0h1m-153 1h1m9 0h2m77 0h1m55 0h1m5 0h1m-151 1h2m9 0h1m76 0h1m54 0h1m5 0h1m-148 1h1m9 0h1m75 0h1m53 0h1m5 0h1m-146 1h2m8 0h2m73 0h1m52 0h1m5 0h1m-143 1h1m9 0h1m72 0h1m51 0h1m6 0h1m-142 1h1m9 0h1m71 0h1m50 0h1m6 0h1m-140 1h2m8 0h2m69 0h1m49 0h1m6 0h1m-137 1h1m9 0h1m68 0h1m48 0h1m6 0h1m-135 1h2m8 0h2m66 0h1m47 0h1m6 0h1m-132 1h1m9 0h1m65 0h1m46 0h1m6 0h1m-130 1h1m9 0h1m64 0h1m45 0h1m6 0h1m-128 1h2m8 0h2m62 0h1m44 0h1m6 0h1m-125 1h1m9 0h1m61 0h1m43 0h1m6 0h1m-123 1h1m9 0h1m60 0h1m42 0h1m6 0h1m-121 1h2m8 0h2m58 0h1m41 0h1m6 0h1m-118 1h1m9 0h1m57 0h1m40 0h1m6 0h1m-116 1h2m8 0h2m55 0h1m39 0h1m6 0h1m-113 1h1m9 0h1m54 0h1m38 0h1m6 0h1m-111 1h1m9 0h1m53 0h1m37 0h1m6 0h1m-109 1h2m8 0h2m51 0h1m36 0h1m6 0h1m-106 1h1m9 0h1m50 0h1m35 0h1m6 0h1m-104 1h2m8 0h2m48 0h1m34 0h1m6 0h1m-101 1h1m9 0h1m47 0h1m33 0h1m6 0h1m-99 1h1m9 0h1m46 0h1m32 0h1m6 0h1m-97 1h2m8 0h2m44 0h1m31 0h1m6 0h1m-94 1h1m9 0h1m43 0h1m30 0h1m6 0h1m-92 1h2m8 0h1m42 0h1m29 0h1m6 0h1m-89 1h1m8 0h2m40 0h1m28 0h1m6 0h1m-87 1h1m9 0h1m39 0h1m27 0h1m6 0h1m-85 1h2m8 0h2m37 0h1m26 0h1m6 0h1m-82 1h1m9 0h1m36 0h1m25 0h1m6 0h1m-80 1h1m9 0h1m35 0h1m24 0h1m6 0h1m-78 1h2m8 0h2m33 0h1m23 0h1m6 0h1m-75 1h1m9 0h1m32 0h1m22 0h1m6 0h1m-73 1h2m8 0h1m31 0h1m21 0h1m6 0h1m-70 1h1m8 0h2m29 0h1m20 0h1m6 0h1m-68 1h1m9 0h1m28 0h1m19 0h1m6 0h1m-66 1h2m8 0h2m26 0h1m19 0h1m5 0h1m-63 1h1m9 0h1m25 0h1m18 0h1m5 0h1m-61 1h2m8 0h1m24 0h1m17 0h1m5 0h1m-58 1h1m8 0h2m22 0h1m16 0h1m5 0h1m-56 1h1m9 0h1m21 0h1m15 0h1m5 0h1m-54 1h2m8 0h1m20 0h1m14 0h1m5 0h1m-51 1h1m8 0h2m18 0h1m13 0h1m5 0h1m-49 1h1m9 0h1m17 0h1m12 0h1m6 0h1m-48 1h2m8 0h2m15 0h1m11 0h1m6 0h1m-45 1h1m9 0h1m14 0h1m10 0h1m6 0h1m-43 1h2m8 0h1m13 0h1m9 0h1m6 0h1m-40 1h1m8 0h2m11 0h1m8 0h1m6 0h1m-38 1h1m9 0h1m10 0h1m7 0h1m6 0h1m-36 1h2m8 0h2m8 0h1m6 0h1m6 0h1m-33 1h1m9 0h1m7 0h1m5 0h1m6 0h1m-31 1h2m8 0h1m6 0h1m4 0h1m6 0h1m-28 1h1m8 0h2m4 0h1m3 0h1m6 0h1m-26 1h1m9 0h1m3 0h1m2 0h1m6 0h1m-24 1h2m8 0h1m2 0h1m1 0h1m6 0h1m-21 1h1m8 0h4m6 0h1m-19 1h1m9 0h1m6 0h1m-17 1h2m7 0h1m5 0h1m-14 1h1m6 0h1m4 0h1m-12 1h2m4 0h1m3 0h1m-9 1h1m3 0h1m2 0h1m-7 1h1m2 0h1m1 0h1m-5 1h4m-2 1h1" stroke="#000" fill="none" stroke-width="1" transform="translate(0,0.5)" />
</g>
<g id="detail">
<ellipse cx="249.5" cy="384" rx="109" ry="79.5" fill="#fff"/>
<path d="M244 304h11m-21 1h10m11 0h10m-39 1h8m31 0h8m-52 1h5m47 0h5m-63 1h6m57 0h6m-74 1h5m69 0h5m-83 1h4m79 0h4m-90 1h3m87 0h3m-95 1h2m93 0h2m-100 1h3m97 0h3m-106 1h3m103 0h3m-111 1h2m109 0h2m-116 1h3m113 0h3m-121 1h2m119 0h2m-125 1h2m123 0h2m-128 1h1m127 0h2m-132 1h2m130 0h1m-135 1h2m133 0h2m-138 1h1m137 0h1m-141 1h2m139 0h2m-144 1h1m143 0h2m-148 1h2m146 0h1m-151 1h2m149 0h2m-154 1h1m153 0h1m-156 1h1m155 0h1m-158 1h1m157 0h1m-161 1h2m159 0h2m-164 1h1m163 0h1m-166 1h1m165 0h1m-168 1h1m167 0h1m-170 1h1m169 0h1m-172 1h1m171 0h1m-175 1h2m173 0h2m-178 1h1m177 0h1m-180 1h1m179 0h1m-182 1h1m181 0h1m-184 1h1m183 0h1m-185 1h1m183 0h1m-186 1h1m185 0h1m-188 1h1m187 0h1m-190 1h1m189 0h1m-191 1h1m189 0h1m-192 1h1m191 0h1m-194 1h1m193 0h1m-195 1h1m193 0h1m-196 1h1m195 0h1m-198 1h1m197 0h1m-200 1h1m199 0h1m-201 1h1m199 0h1m-202 1h1m201 0h1m-203 1h1m201 0h1m-204 1h1m203 0h1m-205 1h1m203 0h1m-206 1h1m205 0h1m-207 1h1m205 0h1m-207 1h1m43 0h125m37 0h1m-208 1h1m44 0h1m123 0h1m38 0h1m-209 1h1m44 0h1m123 0h1m38 0h1m-210 1h1m45 0h1m123 0h1m39 0h1m-211 1h1m45 0h1m123 0h1m39 0h1m-211 1h1m45 0h1m123 0h1m39 0h1m-212 1h1m46 0h1m123 0h1m40 0h1m-213 1h1m46 0h1m4 0h13m7 0h13m7 0h13m7 0h13m7 0h13m7 0h13m6 0h1m40 0h1m-214 1h1m47 0h1m4 0h13m7 0h13m7 0h13m7 0h13m7 0h13m7 0h13m6 0h1m41 0h1m-215 1h1m47 0h1m4 0h13m7 0h13m7 0h13m7 0h13m7 0h13m7 0h13m6 0h1m41 0h1m-215 1h1m47 0h1m4 0h13m7 0h13m7 0h13m7 0h13m7 0h13m7 0h13m6 0h1m41 0h1m-215 1h1m47 0h1m4 0h13m7 0h13m7 0h13m7 0h13m7 0h13m7 0h13m6 0h1m41 0h1m-215 1h1m47 0h1m4 0h13m7 0h13m7 0h13m7 0h13m7 0h13m7 0h13m6 0h1m41 0h1m-216 1h1m48 0h1m4 0h13m7 0h13m7 0h13m7 0h13m7 0h13m7 0h13m6 0h1m41 0h1m-216 1h1m48 0h1m4 0h13m7 0h13m7 0h13m7 0h13m7 0h13m7 0h13m6 0h1m42 0h1m-217 1h1m48 0h1m4 0h13m7 0h13m7 0h13m7 0h13m7 0h13m7 0h13m6 0h1m42 0h1m-217 1h1m48 0h1m4 0h13m7 0h13m7 0h13m7 0h13m7 0h13m7 0h13m6 0h1m42 0h1m-217 1h1m48 0h1m4 0h13m7 0h13m7 0h13m7 0h13m7 0h13m7 0h13m6 0h1m42 0h1m-217 1h1m48 0h1m4 0h13m7 0h13m7 0h13m7 0h13m7 0h13m7 0h13m6 0h1m42 0h1m-217 1h1m48 0h1m4 0h13m7 0h13m7 0h13m7 0h13m7 0h13m7 0h13m6 0h1m42 0h1m-217 1h1m48 0h1m123 0h1m42 0h1m-218 1h1m49 0h1m123 0h1m42 0h1m-218 1h1m49 0h1m123 0h1m43 0h1m-219 1h1m49 0h1m123 0h1m43 0h1m-219 1h1m49 0h1m123 0h1m43 0h1m-219 1h1m49 0h1m123 0h1m43 0h1m-219 1h1m49 0h1m4 0h13m7 0h13m7 0h13m7 0h13m7 0h13m7 0h13m6 0h1m43 0h1m-219 1h1m49 0h1m4 0h13m7 0h13m7 0h13m7 0h13m7 0h13m7 0h13m6 0h1m43 0h1m-219 1h1m49 0h1m4 0h13m7 0h13m7 0h13m7 0h13m7 0h13m7 0h13m6 0h1m43 0h1m-218 1h1m48 0h1m4 0h13m7 0h13m7 0h13m7 0h13m7 0h13m7 0h13m6 0h1m42 0h1m-217 1h1m48 0h1m4 0h13m7 0h13m7 0h13m7 0h13m7 0h13m7 0h13m6 0h1m42 0h1m-217 1h1m48 0h1m4 0h13m7 0h13m7 0h13m7 0h13m7 0h13m7 0h13m6 0h1m42 0h1m-217 1h1m48 0h1m4 0h13m7 0h13m7 0h13m7 0h13m7 0h13m7 0h13m6 0h1m42 0h1m-217 1h1m48 0h1m4 0h13m7 0h13m7 0h13m7 0h13m7 0h13m7 0h13m6 0h1m42 0h1m-217 1h1m48 0h1m4 0h13m7 0h13m7 0h13m7 0h13m7 0h13m7 0h13m6 0h1m42 0h1m-217 1h1m48 0h1m4 0h13m7 0h13m7 0h13m7 0h13m7 0h13m7 0h13m6 0h1m42 0h1m-217 1h1m48 0h1m4 0h13m7 0h13m7 0h13m7 0h13m7 0h13m7 0h13m6 0h1m42 0h1m-216 1h1m47 0h1m4 0h13m7 0h13m7 0h13m7 0h13m7 0h13m7 0h13m6 0h1m41 0h1m-215 1h1m47 0h1m4 0h13m7 0h13m7 0h13m7 0h13m7 0h13m7 0h13m6 0h1m41 0h1m-215 1h1m47 0h1m123 0h1m41 0h1m-215 1h1m47 0h1m123 0h1m41 0h1m-215 1h1m47 0h1m123 0h1m41 0h1m-214 1h1m46 0h1m123 0h1m40 0h1m-213 1h1m46 0h1m123 0h1m40 0h1m-212 1h1m45 0h1m123 0h1m39 0h1m-211 1h1m45 0h1m4 0h13m7 0h13m7 0h13m7 0h13m7 0h13m7 0h13m6 0h1m39 0h1m-211 1h1m45 0h1m4 0h13m7 0h13m7 0h13m7 0h13m7 0h13m7 0h13m6 0h1m39 0h1m-210 1h1m44 0h1m4 0h13m7 0h13m7 0h13m7 0h13m7 0h13m7 0h13m6 0h1m38 0h1m-209 1h1m44 0h1m4 0h13m7 0h13m7 0h13m7 0h13m7 0h13m7 0h13m6 0h1m38 0h1m-208 1h1m43 0h1m4 0h13m7 0h13m7 0h13m7 0h13m7 0h13m7 0h13m6 0h1m37 0h1m-207 1h1m43 0h1m4 0h13m7 0h13m7 0h13m7 0h13m7 0h13m7 0h13m6 0h1m37 0h1m-207 1h1m43 0h1m4 0h13m7 0h13m7 0h13m7 0h13m7 0h13m7 0h13m6 0h1m37 0h1m-206 1h1m42 0h1m4 0h13m7 0h13m7 0h13m7 0h13m7 0h13m7 0h13m6 0h1m36 0h1m-205 1h1m42 0h1m4 0h13m7 0h13m7 0h13m7 0h13m7 0h13m7 0h13m6 0h1m36 0h1m-204 1h1m41 0h1m4 0h13m7 0h13m7 0h13m7 0h13m7 0h13m7 0h13m6 0h1m35 0h1m-203 1h1m41 0h1m4 0h13m7 0h13m7 0h13m7 0h13m7 0h13m7 0h13m6 0h1m35 0h1m-202 1h1m40 0h1m4 0h13m7 0h13m7 0h13m7 0h13m7 0h13m7 0h13m6 0h1m34 0h1m-201 1h1m40 0h1m4 0h13m7 0h13m7 0h13m7 0h13m7 0h13m7 0h13m6 0h1m34 0h1m-200 1h1m39 0h1m123 0h1m33 0h1m-198 1h1m38 0h1m123 0h1m32 0h1m-196 1h1m37 0h1m123 0h1m31 0h1m-195 1h1m37 0h1m123 0h1m31 0h1m-194 1h1m36 0h1m123 0h1m30 0h1m-192 1h1m35 0h1m123 0h1m29 0h1m-191 1h1m35 0h125m29 0h1m-190 1h1m187 0h1m-188 1h1m185 0h1m-186 1h1m183 0h1m-185 1h1m183 0h1m-184 1h1m181 0h1m-182 1h1m179 0h1m-180 1h1m177 0h1m-178 1h2m173 0h2m-175 1h1m171 0h1m-172 1h1m169 0h1m-170 1h1m167 0h1m-168 1h1m165 0h1m-166 1h1m163 0h1m-164 1h2m159 0h2m-161 1h1m157 0h1m-158 1h1m155 0h1m-156 1h1m153 0h1m-154 1h2m149 0h2m-151 1h1m146 0h2m-148 1h2m143 0h1m-144 1h2m139 0h2m-141 1h1m137 0h1m-138 1h2m133 0h2m-135 1h1m130 0h2m-132 1h2m127 0h1m-128 1h2m123 0h2m-125 1h2m119 0h2m-121 1h3m113 0h3m-116 1h2m109 0h2m-111 1h3m103 0h3m-106 1h3m97 0h3m-100 1h2m93 0h2m-95 1h3m87 0h3m-90 1h4m79 0h4m-83 1h5m69 0h5m-74 1h6m57 0h6m-63 1h5m47 0h5m-52 1h8m31 0h8m-39 1h10m11 0h10m-21 1h11" stroke="#000" fill="none" stroke-width="1" transform="translate(0,0.5)" />
<text x="212.3" y="328" font-size="14" letter-spacing="0.3" text-anchor="start" word-spacing="1.6">Detail of JP1</text>
<text x="200.2" y="356" font-size="12" letter-spacing="0" text-anchor="middle">1</text>
<text x="220.4" y="356" font-size="12" letter-spacing="0" text-anchor="middle">4</text>
<text x="240" y="356" font-size="12" letter-spacing="0" text-anchor="middle">7</text>
<text x="261.4" y="356" font-size="12" letter-spacing="0" text-anchor="middle">10</text>
<text x="282.9" y="356" font-size="12" letter-spacing="0" text-anchor="middle">13</text>
<text x="302.4" y="356" font-size="12" letter-spacing="0" text-anchor="middle">16</text>
<text x="200.4" y="439" font-size="12" letter-spacing="0" text-anchor="middle">3</text>
<text x="220" y="439" font-size="12" letter-spacing="0" text-anchor="middle">6</text>
<text x="240" y="439" font-size="12" letter-spacing="0" text-anchor="middle">9</text>
<text x="260.6" y="439" font-size="12" letter-spacing="0" text-anchor="middle">12</text>
<text x="281" y="439" font-size="12" letter-spacing="0" text-anchor="middle">15</text>
<text x="302" y="439" font-size="12" letter-spacing="0" text-anchor="middle">18</text>
</g>
<text x="711.5" y="763" font-size="12" letter-spacing="0.7" text-anchor="start">70054</text>
<defs><pattern id="dith" width="2" height="2" patternUnits="userSpaceOnUse"><rect width="2" height="2" fill="#fff"/><rect x="0" y="0" width="1" height="1" fill="#000"/><rect x="1" y="1" width="1" height="1" fill="#000"/></pattern></defs>
<g id="dc-power">
<polygon points="96,458 140,488 140,507 117,529 73,498 73,481" fill="#fff"/>
<path d="M96 458h1m-2 1h1m1 0h2m-5 1h1m4 0h1m-7 1h1m6 0h2m-10 1h1m9 0h1m-12 1h1m11 0h2m-15 1h1m14 0h1m-17 1h1m16 0h2m-20 1h1m19 0h1m-22 1h1m21 0h1m-24 1h1m23 0h2m-27 1h1m26 0h1m-29 1h1m28 0h2m-32 1h1m31 0h1m-34 1h1m33 0h2m-37 1h1m36 0h1m-39 1h1m38 0h2m-42 1h1m41 0h1m-44 1h1m43 0h2m-47 1h1m46 0h1m-49 1h1m48 0h2m-52 1h1m51 0h1m-54 1h1m53 0h2m-57 1h1m56 0h1m-58 1h3m55 0h1m-59 1h1m2 0h1m55 0h2m-61 1h1m3 0h1m56 0h1m-62 1h1m4 0h2m55 0h2m-64 1h1m6 0h1m56 0h1m-65 1h1m7 0h2m55 0h2m-67 1h1m7 0h3m56 0h1m-68 1h1m6 0h1m2 0h3m53 0h2m-68 1h1m5 0h1m5 0h2m51 0h1m1 0h1m-68 1h1m4 0h2m4 0h2m1 0h1m49 0h1m2 0h1m-68 1h1m4 0h4m1 0h1m1 0h1m2 0h2m46 0h1m3 0h1m-68 1h1m4 0h1m3 0h1m2 0h1m4 0h1m44 0h1m4 0h1m-68 1h1m3 0h2m3 0h1m2 0h1m5 0h2m41 0h1m5 0h1m-68 1h1m2 0h1m1 0h1m3 0h1m2 0h1m5 0h3m39 0h1m6 0h1m-68 1h1m1 0h1m2 0h1m3 0h1m1 0h1m5 0h1m2 0h2m37 0h1m7 0h1m-68 1h2m4 0h2m1 0h2m5 0h1m5 0h2m34 0h1m8 0h1m-68 1h1m7 0h2m5 0h2m4 0h2m1 0h1m32 0h1m9 0h1m-67 1h2m12 0h1m1 0h2m1 0h1m1 0h1m2 0h2m29 0h1m10 0h1m-65 1h1m11 0h1m3 0h1m2 0h1m4 0h1m28 0h1m10 0h1m-64 1h1m10 0h1m3 0h1m2 0h1m5 0h2m25 0h1m11 0h1m-63 1h2m8 0h1m3 0h1m2 0h1m4 0h2m1 0h1m23 0h1m12 0h1m-61 1h1m7 0h1m3 0h1m1 0h1m4 0h1m2 0h3m21 0h1m13 0h1m-60 1h2m6 0h2m1 0h2m4 0h1m5 0h3m18 0h1m14 0h1m-58 1h1m7 0h2m4 0h2m4 0h2m2 0h1m16 0h1m15 0h1m-57 1h2m11 0h1m1 0h2m1 0h1m1 0h1m3 0h2m13 0h1m16 0h1m-55 1h1m10 0h1m3 0h1m2 0h1m5 0h1m11 0h1m17 0h1m-54 1h1m9 0h1m3 0h1m2 0h1m6 0h2m8 0h1m17 0h1m-52 1h2m7 0h1m3 0h1m2 0h1m5 0h2m1 0h1m6 0h1m17 0h1m-49 1h1m6 0h1m3 0h1m1 0h1m5 0h1m2 0h3m4 0h1m17 0h1m-47 1h2m5 0h2m1 0h2m5 0h1m5 0h3m1 0h1m17 0h1m-44 1h1m6 0h2m5 0h2m4 0h2m2 0h1m17 0h1m-42 1h2m11 0h1m1 0h2m1 0h1m1 0h1m2 0h1m16 0h1m-39 1h1m10 0h1m3 0h1m2 0h1m2 0h1m15 0h1m-37 1h1m9 0h1m3 0h1m2 0h1m2 0h1m14 0h1m-35 1h2m7 0h1m3 0h1m2 0h1m2 0h1m13 0h1m-32 1h1m6 0h1m3 0h1m1 0h1m3 0h1m12 0h1m-30 1h2m5 0h2m1 0h2m4 0h1m10 0h2m-27 1h1m6 0h2m5 0h1m9 0h1m-24 1h1m12 0h1m8 0h1m-22 1h2m10 0h1m7 0h1m-19 1h1m9 0h1m6 0h1m-17 1h2m7 0h1m5 0h1m-14 1h1m6 0h1m4 0h1m-12 1h2m4 0h1m3 0h1m-9 1h1m3 0h1m2 0h1m-7 1h1m2 0h1m1 0h1m-5 1h4m-2 1h1" stroke="#000" fill="none" stroke-width="1" transform="translate(0,0.5)" />
</g>
<g id="label-dc">
<polygon points="78,459 82,456 92,470 91,472 89,472" fill="#000"/>
<path d="M81 459h1m0 1h1m-1 1h1m0 1h1m0 1h1" stroke="#fff" fill="none" stroke-width="1" transform="translate(0,0.5)" />
<rect x="0" y="442" width="82" height="19" rx="4" ry="4" fill="#000"/>
<rect x="2" y="444" width="78" height="14" rx="2.5" ry="2.5" fill="#fff"/>
<text transform="translate(6,457) scale(0.8,1)" x="0" y="0" font-size="14" textLength="87.5" lengthAdjust="spacing">DC POWER</text>
</g>
<g id="jp1">
<path d="M91 525h1m-2 1h1m-2 1h1m-2 1h1m-2 1h1m-2 1h1m-2 1h1m-2 1h1m-2 1h1m-2 1h1m-2 1h1m-2 1h1m-2 1h1m-2 1h1m-2 1h1m-2 1h1m-2 1h1m-2 1h1m-2 1h1m-2 1h1m-2 1h1m-2 1h1m-2 1h1" stroke="#000" fill="none" stroke-width="1" transform="translate(0,0.5)" />
<path d="M132 514h5m-6 1h1m2 0h3m-7 1h1m2 0h1m1 0h2m-8 1h1m2 0h2m1 0h2m-9 1h1m2 0h3m1 0h2m1 0h5m-16 1h1m2 0h2m1 0h1m1 0h3m2 0h3m-17 1h1m2 0h3m1 0h1m1 0h2m2 0h1m1 0h2m-18 1h1m2 0h4m1 0h1m1 0h1m2 0h2m1 0h2m1 0h4m-24 1h1m2 0h3m1 0h1m1 0h2m2 0h3m1 0h2m2 0h3m-25 1h1m2 0h4m1 0h1m1 0h1m2 0h2m1 0h1m1 0h1m2 0h1m1 0h2m-26 1h1m2 0h2m1 0h1m3 0h1m2 0h3m1 0h1m3 0h2m1 0h2m-27 1h1m2 0h2m1 0h1m1 0h1m1 0h1m2 0h4m1 0h1m2 0h3m1 0h2m1 0h5m-34 1h1m2 0h2m1 0h1m1 0h1m1 0h1m2 0h3m1 0h1m3 0h2m1 0h1m1 0h3m2 0h3m-35 1h1m2 0h2m1 0h1m1 0h1m1 0h1m2 0h4m1 0h1m2 0h3m1 0h1m1 0h2m2 0h1m1 0h2m-36 1h1m2 0h2m1 0h1m1 0h1m1 0h1m2 0h2m1 0h1m4 0h4m1 0h1m1 0h1m2 0h2m1 0h2m-34 1h2m1 0h1m1 0h1m1 0h1m2 0h2m1 0h1m1 0h1m2 0h3m1 0h1m1 0h2m2 0h3m1 0h2m-34 1h1m1 0h1m1 0h1m1 0h1m2 0h2m1 0h1m1 0h1m2 0h4m1 0h1m1 0h1m2 0h2m1 0h1m1 0h2m-33 1h1m1 0h1m1 0h1m2 0h2m1 0h1m1 0h1m2 0h2m1 0h1m3 0h1m2 0h3m1 0h1m1 0h1m-29 1h1m2 0h2m1 0h1m1 0h1m2 0h2m1 0h1m1 0h1m1 0h1m2 0h4m1 0h1m-25 1h2m1 0h1m1 0h1m2 0h2m1 0h1m1 0h1m1 0h1m2 0h3m1 0h1m1 0h1m-25 1h1m1 0h1m1 0h1m2 0h2m1 0h1m1 0h1m1 0h1m2 0h4m1 0h1m-20 1h1m2 0h2m1 0h1m1 0h1m1 0h1m2 0h2m1 0h1m-15 1h2m1 0h1m1 0h1m1 0h1m2 0h2m1 0h1m1 0h1m-16 1h1m1 0h1m1 0h1m1 0h1m2 0h2m1 0h1m1 0h1m-14 1h1m1 0h1m1 0h1m2 0h2m1 0h1m1 0h1m-10 1h1m2 0h2m1 0h1m1 0h1m-7 1h2m1 0h1m1 0h1m-6 1h1m1 0h1m0 1h1" stroke="#000" fill="none" stroke-width="1" transform="translate(0,0.5)" />
<polygon points="91,517 95,514 140,542 140,556 133,563 97,538 91,530" fill="#fff"/>
<path d="M95 514h1m-2 1h1m1 0h2m-6 1h2m4 0h2m-9 1h1m8 0h1m-10 1h3m7 0h2m-12 1h1m2 0h1m8 0h1m-13 1h1m3 0h2m7 0h2m-15 1h1m5 0h1m8 0h2m-17 1h1m6 0h1m9 0h1m-18 1h1m7 0h2m8 0h2m-20 1h1m9 0h1m9 0h1m-21 1h1m10 0h2m8 0h2m-23 1h1m12 0h1m9 0h2m-25 1h1m13 0h2m9 0h1m-26 1h1m15 0h1m9 0h2m-28 1h1m16 0h2m9 0h1m-29 1h1m18 0h1m9 0h2m-11 1h1m10 0h2m-12 1h2m10 0h1m-11 1h1m10 0h2m-12 1h2m10 0h1m-11 1h1m10 0h2m-12 1h2m10 0h2m-12 1h1m11 0h1m-12 1h2m10 0h2m-12 1h1m11 0h1m-12 1h2m10 0h2m-12 1h1m11 0h2m-13 1h1m12 0h1m-13 1h2m8 0h3m-11 1h1m5 0h2m2 0h1m-10 1h2m1 0h2m4 0h1m-8 1h1m6 0h1m-8 1h1m6 0h1m-8 1h1m6 0h1m-8 1h1m6 0h1m-8 1h1m6 0h1m-8 1h1m6 0h1m-8 1h1m6 0h1m-8 1h1m6 0h1m-8 1h1m6 0h1m-8 1h1m6 0h1m-8 1h1m6 0h1m-8 1h1m5 0h1m-7 1h1m4 0h1m-6 1h1m3 0h1m-5 1h1m2 0h1m-4 1h1m1 0h1m-3 1h2m-2 1h1" stroke="#000" fill="none" stroke-width="1" transform="translate(0,0.5)" />
<polygon points="98,525 133,550 133,563 108,581 74,553" fill="#fff"/>
<path d="M98 526h1m-1 1h2m-3 1h1m1 0h2m-5 1h1m2 0h1m-5 1h1m2 0h1m3 0h2m-10 1h1m2 0h1m3 0h4m-12 1h1m2 0h1m1 0h1m1 0h3m1 0h2m-14 1h1m2 0h1m1 0h1m1 0h3m2 0h1m-14 1h1m2 0h1m1 0h1m1 0h3m2 0h1m3 0h2m-19 1h1m2 0h1m1 0h1m1 0h3m2 0h2m2 0h5m-22 1h1m2 0h1m1 0h1m1 0h3m2 0h2m1 0h4m2 0h1m-23 1h1m2 0h1m1 0h1m1 0h3m2 0h2m1 0h4m2 0h1m3 0h1m-26 1h1m2 0h2m1 0h3m2 0h2m1 0h4m2 0h1m3 0h3m-28 1h1m2 0h2m1 0h3m2 0h2m1 0h4m2 0h1m3 0h5m-30 1h1m2 0h2m1 0h3m2 0h2m1 0h4m2 0h1m1 0h1m1 0h3m2 0h1m-31 1h1m2 0h2m1 0h4m2 0h1m1 0h1m1 0h2m2 0h1m1 0h1m1 0h3m2 0h1m3 0h1m-35 1h1m2 0h2m1 0h4m2 0h1m1 0h1m1 0h2m2 0h1m1 0h1m1 0h3m2 0h1m3 0h3m-37 1h1m2 0h2m1 0h4m2 0h1m1 0h1m1 0h2m2 0h1m1 0h1m1 0h3m2 0h2m2 0h6m-40 1h1m2 0h2m1 0h4m2 0h1m1 0h1m1 0h3m2 0h2m1 0h3m2 0h2m1 0h4m2 0h1m-40 1h1m2 0h2m1 0h4m2 0h1m1 0h1m1 0h3m2 0h2m1 0h3m2 0h2m1 0h4m2 0h1m3 0h1m-44 1h1m2 0h2m1 0h4m2 0h1m1 0h1m1 0h3m2 0h2m1 0h3m2 0h2m1 0h4m2 0h1m3 0h4m-47 1h1m2 0h2m1 0h4m2 0h1m1 0h1m1 0h3m2 0h2m1 0h4m2 0h1m1 0h1m1 0h2m2 0h1m1 0h1m1 0h3m1 0h2m-49 1h1m2 0h2m1 0h4m2 0h1m1 0h1m1 0h3m2 0h2m1 0h4m2 0h1m1 0h1m1 0h2m2 0h1m1 0h1m1 0h3m2 0h1m-48 1h1m2 0h1m1 0h1m1 0h2m2 0h1m1 0h1m1 0h3m2 0h2m1 0h4m2 0h1m1 0h1m1 0h2m2 0h1m1 0h1m1 0h3m2 0h1m3 0h2m-53 1h4m1 0h1m1 0h2m2 0h1m1 0h1m1 0h3m2 0h2m1 0h4m2 0h1m1 0h1m1 0h2m2 0h1m1 0h1m1 0h3m2 0h1m3 0h4m-54 1h3m1 0h1m1 0h2m2 0h1m1 0h1m1 0h3m2 0h2m1 0h4m2 0h1m1 0h1m1 0h3m2 0h2m1 0h3m2 0h2m1 0h4m1 0h2m-54 1h1m1 0h1m1 0h3m2 0h2m1 0h3m2 0h2m1 0h4m2 0h1m1 0h1m1 0h3m2 0h2m1 0h3m2 0h2m1 0h4m2 0h1m-52 1h1m1 0h3m2 0h2m1 0h3m2 0h2m1 0h4m2 0h1m1 0h1m1 0h3m2 0h2m1 0h3m2 0h2m1 0h4m2 0h1m3 0h1m-54 1h4m1 0h2m1 0h3m2 0h2m1 0h4m2 0h1m1 0h1m1 0h3m2 0h2m1 0h4m2 0h1m1 0h1m1 0h2m2 0h1m3 0h1m-52 1h5m1 0h4m2 0h1m1 0h1m1 0h2m2 0h1m1 0h1m1 0h3m2 0h2m1 0h4m2 0h1m1 0h1m1 0h2m2 0h1m1 0h1m1 0h1m-50 1h3m1 0h4m2 0h1m1 0h1m1 0h2m2 0h1m1 0h1m1 0h3m2 0h2m1 0h4m2 0h1m1 0h1m1 0h2m2 0h1m1 0h1m1 0h1m-48 1h1m1 0h4m2 0h1m1 0h1m1 0h2m2 0h1m1 0h1m1 0h3m2 0h2m1 0h4m2 0h1m1 0h1m1 0h3m2 0h2m1 0h1m-46 1h4m2 0h1m1 0h1m1 0h3m2 0h2m1 0h3m2 0h2m1 0h4m2 0h1m1 0h1m1 0h3m2 0h2m1 0h1m-44 1h5m1 0h1m1 0h3m2 0h2m1 0h3m2 0h2m1 0h4m2 0h1m1 0h1m1 0h3m2 0h2m1 0h1m-42 1h3m1 0h1m1 0h3m2 0h2m1 0h3m2 0h2m1 0h4m2 0h1m1 0h1m1 0h3m2 0h2m1 0h2m-41 1h1m1 0h1m1 0h3m2 0h2m1 0h3m2 0h2m1 0h4m2 0h1m1 0h1m1 0h3m2 0h2m1 0h2m-39 1h1m1 0h3m2 0h2m1 0h4m2 0h1m1 0h1m1 0h2m2 0h1m1 0h1m1 0h3m2 0h2m1 0h2m-37 1h4m1 0h2m1 0h4m2 0h1m1 0h1m1 0h2m2 0h1m1 0h1m1 0h3m2 0h2m1 0h2m-35 1h5m1 0h4m2 0h1m1 0h1m1 0h2m2 0h1m1 0h1m1 0h3m2 0h2m1 0h2m-33 1h3m1 0h4m2 0h1m1 0h1m1 0h3m2 0h2m1 0h3m2 0h2m1 0h2m-31 1h1m1 0h4m2 0h1m1 0h1m1 0h3m2 0h2m1 0h3m2 0h2m1 0h2m-29 1h4m2 0h1m1 0h1m1 0h3m2 0h2m1 0h3m2 0h2m1 0h2m-27 1h5m1 0h1m1 0h3m2 0h2m1 0h4m2 0h1m1 0h1m-24 1h3m1 0h1m1 0h3m2 0h2m1 0h4m2 0h1m1 0h1m-22 1h1m1 0h1m1 0h3m2 0h2m1 0h4m2 0h1m1 0h1m-20 1h1m1 0h3m2 0h2m1 0h4m2 0h1m1 0h1m1 0h1m-20 1h4m1 0h2m1 0h4m2 0h1m1 0h1m1 0h1m-18 1h5m1 0h4m2 0h1m1 0h1m1 0h1m-16 1h3m1 0h4m2 0h1m1 0h1m1 0h1m-14 1h1m1 0h4m2 0h1m1 0h1m1 0h1m-12 1h1m1 0h2m2 0h1m1 0h1m1 0h1m-10 1h5m1 0h1m1 0h1m-7 1h2m1 0h1m1 0h1m-5 1h2m1 0h1m-2 1h1" stroke="#000" fill="none" stroke-width="1" transform="translate(0,0.5)" />
<polygon points="70,553 76,547 76,551 73,555" fill="#000"/>
<polygon points="75,557 81,551 81,555 78,559" fill="#000"/>
</g>
<g id="interface">
<path d="M172 542h5m-6 1h1m2 0h3m-7 1h1m2 0h1m1 0h2m-8 1h1m2 0h2m1 0h2m-9 1h1m2 0h3m1 0h2m2 0h4m-16 1h1m2 0h2m1 0h1m1 0h2m3 0h3m-17 1h1m2 0h3m1 0h1m1 0h2m2 0h1m1 0h2m-18 1h1m2 0h4m1 0h1m1 0h1m2 0h2m1 0h2m-19 1h1m2 0h3m1 0h1m1 0h2m2 0h3m1 0h2m-20 1h1m2 0h4m1 0h1m1 0h1m2 0h2m1 0h1m1 0h2m1 0h5m-24 1h5m1 0h2m2 0h3m1 0h1m1 0h3m2 0h3m-25 1h2m1 0h1m1 0h1m1 0h1m2 0h4m1 0h1m1 0h2m2 0h1m1 0h2m-23 1h1m1 0h1m1 0h1m2 0h3m1 0h1m1 0h3m2 0h2m1 0h2m-22 1h1m1 0h1m2 0h4m1 0h1m1 0h2m2 0h3m1 0h2m1 0h5m-27 1h1m2 0h5m1 0h3m2 0h2m1 0h1m1 0h3m2 0h3m-25 1h2m1 0h1m1 0h1m1 0h2m2 0h3m1 0h1m1 0h2m2 0h1m1 0h2m-23 1h1m1 0h1m1 0h2m2 0h4m1 0h1m1 0h1m2 0h2m1 0h2m-22 1h1m1 0h2m2 0h3m1 0h1m1 0h2m2 0h3m1 0h2m2 0h4m-27 1h2m2 0h4m1 0h1m1 0h1m2 0h2m1 0h1m1 0h2m3 0h3m-24 1h5m1 0h2m2 0h3m1 0h1m1 0h2m2 0h1m1 0h2m-23 1h1m1 0h1m1 0h2m2 0h4m1 0h1m1 0h1m2 0h2m1 0h2m-22 1h1m1 0h2m2 0h3m1 0h1m1 0h2m2 0h3m1 0h2m-21 1h2m2 0h4m1 0h1m1 0h1m2 0h2m1 0h1m1 0h2m1 0h5m-24 1h5m1 0h2m2 0h3m1 0h1m1 0h3m2 0h3m-25 1h1m1 0h1m1 0h1m1 0h1m3 0h4m1 0h1m1 0h2m2 0h1m1 0h2m-22 1h1m1 0h1m3 0h3m1 0h1m1 0h3m2 0h2m1 0h2m-21 1h1m3 0h4m1 0h1m1 0h2m2 0h3m1 0h2m1 0h5m-24 1h5m1 0h3m2 0h2m1 0h1m1 0h3m2 0h3m-25 1h1m1 0h1m1 0h1m1 0h1m1 0h1m2 0h3m1 0h1m1 0h2m2 0h1m1 0h2m-24 1h1m1 0h1m1 0h1m1 0h1m2 0h4m1 0h1m1 0h1m2 0h2m1 0h2m-21 1h1m1 0h1m2 0h3m1 0h1m1 0h2m2 0h3m1 0h2m1 0h5m-26 1h1m2 0h4m1 0h1m1 0h1m2 0h2m1 0h1m1 0h3m2 0h3m-24 1h5m1 0h2m2 0h3m1 0h1m1 0h2m2 0h1m1 0h2m-24 1h1m1 0h1m1 0h1m1 0h1m2 0h4m1 0h1m1 0h1m2 0h2m1 0h2m-23 1h1m1 0h1m1 0h1m2 0h3m1 0h1m1 0h2m2 0h3m1 0h2m-20 1h1m2 0h4m1 0h1m1 0h1m2 0h2m1 0h1m1 0h2m1 0h5m-24 1h5m1 0h2m2 0h3m1 0h1m1 0h3m2 0h3m-25 1h2m1 0h1m1 0h1m1 0h1m2 0h4m1 0h1m1 0h2m2 0h1m1 0h2m-23 1h1m1 0h1m1 0h1m2 0h3m1 0h1m1 0h3m2 0h2m1 0h2m-22 1h1m1 0h1m2 0h4m1 0h1m1 0h2m2 0h3m1 0h2m1 0h4m-23 1h5m1 0h3m2 0h2m1 0h1m1 0h2m2 0h3m-24 1h2m1 0h1m1 0h1m1 0h2m2 0h3m1 0h1m1 0h1m2 0h1m1 0h2m-22 1h1m1 0h1m1 0h2m2 0h4m1 0h1m3 0h2m1 0h2m-21 1h1m1 0h2m2 0h3m1 0h1m1 0h1m2 0h3m1 0h2m2 0h4m-26 1h2m2 0h4m1 0h1m3 0h2m1 0h1m1 0h2m3 0h3m-23 1h5m1 0h1m2 0h3m1 0h1m1 0h2m2 0h1m1 0h2m-22 1h1m1 0h1m1 0h1m2 0h4m1 0h1m1 0h1m2 0h2m1 0h2m-21 1h1m1 0h1m2 0h3m1 0h1m1 0h2m2 0h3m1 0h2m-20 1h1m2 0h4m1 0h1m1 0h1m2 0h2m1 0h1m1 0h2m1 0h5m-24 1h5m1 0h2m2 0h3m1 0h1m1 0h3m2 0h3m-22 1h1m1 0h1m1 0h1m2 0h4m1 0h1m1 0h2m2 0h1m1 0h2m-21 1h1m1 0h1m2 0h3m1 0h1m1 0h3m2 0h2m1 0h2m-20 1h1m2 0h4m1 0h1m1 0h2m2 0h3m1 0h2m2 0h4m-24 1h5m1 0h3m2 0h2m1 0h1m1 0h2m3 0h3m-24 1h1m1 0h1m1 0h1m1 0h2m2 0h3m1 0h1m1 0h2m2 0h1m1 0h2m-21 1h1m1 0h2m2 0h4m1 0h1m1 0h1m2 0h2m1 0h2m-20 1h2m2 0h3m1 0h1m1 0h2m2 0h3m1 0h2m2 0h4m-23 1h4m1 0h1m1 0h1m2 0h2m1 0h1m1 0h2m3 0h3m-24 1h5m1 0h2m2 0h3m1 0h1m1 0h2m2 0h1m1 0h2m-23 1h1m1 0h1m1 0h1m3 0h4m1 0h1m1 0h1m2 0h2m1 0h2m-20 1h1m3 0h3m1 0h1m1 0h2m2 0h3m1 0h2m-17 1h4m1 0h1m1 0h1m2 0h2m1 0h1m1 0h2m1 0h5m-24 1h5m1 0h2m2 0h3m1 0h1m1 0h3m2 0h3m-23 1h1m1 0h1m1 0h1m3 0h4m1 0h1m1 0h2m2 0h1m1 0h2m-22 1h1m1 0h1m3 0h3m1 0h1m1 0h3m2 0h2m1 0h2m-17 1h4m1 0h1m1 0h2m2 0h3m1 0h2m2 0h4m-24 1h5m1 0h3m2 0h2m1 0h1m1 0h2m3 0h3m-23 1h1m1 0h1m1 0h1m1 0h1m2 0h3m1 0h1m1 0h2m2 0h1m1 0h2m-22 1h1m1 0h1m1 0h1m2 0h4m1 0h1m1 0h1m2 0h2m1 0h2m-21 1h1m1 0h1m2 0h3m1 0h1m1 0h2m2 0h3m1 0h2m2 0h4m-23 1h4m1 0h1m1 0h1m2 0h2m1 0h1m1 0h2m3 0h3m-24 1h5m1 0h2m2 0h3m1 0h1m1 0h2m2 0h1m1 0h2m-22 1h1m1 0h1m1 0h1m2 0h4m1 0h1m1 0h1m2 0h2m1 0h2m-21 1h1m1 0h1m2 0h3m1 0h1m1 0h2m2 0h3m1 0h2m-20 1h1m2 0h4m1 0h1m1 0h1m2 0h2m1 0h1m1 0h2m1 0h5m-24 1h5m1 0h2m2 0h3m1 0h1m1 0h3m2 0h3m-22 1h1m1 0h1m1 0h1m2 0h4m1 0h1m1 0h2m2 0h1m1 0h2m-21 1h1m1 0h1m2 0h3m1 0h1m1 0h3m2 0h2m1 0h2m-20 1h1m2 0h4m1 0h1m1 0h2m2 0h3m1 0h2m1 0h5m-24 1h5m1 0h3m2 0h2m1 0h1m1 0h3m2 0h3m-22 1h1m1 0h1m1 0h2m2 0h3m1 0h1m1 0h2m2 0h1m1 0h2m-21 1h1m1 0h2m2 0h4m1 0h1m1 0h1m2 0h2m1 0h2m-20 1h2m2 0h3m1 0h1m1 0h2m2 0h3m1 0h2m2 0h4m-23 1h4m1 0h1m1 0h1m2 0h2m1 0h1m1 0h2m3 0h3m-23 1h4m1 0h2m2 0h3m1 0h1m1 0h2m2 0h1m1 0h2m-21 1h1m1 0h2m2 0h4m1 0h1m1 0h1m2 0h2m1 0h2m-20 1h2m2 0h3m1 0h1m1 0h2m2 0h3m1 0h2m-17 1h4m1 0h1m1 0h1m2 0h2m1 0h1m1 0h2m1 0h5m-24 1h5m1 0h2m2 0h3m1 0h1m1 0h3m2 0h3m-21 1h1m1 0h1m3 0h4m1 0h1m1 0h2m2 0h1m1 0h2m-20 1h1m3 0h3m1 0h1m1 0h3m2 0h2m1 0h2m-17 1h4m1 0h1m1 0h2m2 0h3m1 0h2m1 0h5m-24 1h5m1 0h3m2 0h2m1 0h1m1 0h3m2 0h3m-23 1h1m1 0h1m1 0h1m1 0h1m2 0h3m1 0h1m1 0h2m2 0h1m1 0h2m-20 1h1m1 0h1m2 0h4m1 0h1m1 0h1m2 0h2m1 0h2m-19 1h1m2 0h3m1 0h1m1 0h2m2 0h3m1 0h2m1 0h5m-23 1h4m1 0h1m1 0h1m2 0h2m1 0h1m1 0h3m2 0h3m-23 1h4m1 0h2m2 0h3m1 0h1m1 0h2m2 0h1m1 0h2m-22 1h1m1 0h1m1 0h1m2 0h4m1 0h1m1 0h1m2 0h2m1 0h2m-19 1h1m2 0h3m1 0h1m1 0h2m2 0h3m1 0h2m-17 1h4m1 0h1m1 0h1m2 0h2m1 0h1m1 0h2m1 0h5m-24 1h5m1 0h2m2 0h3m1 0h1m1 0h3m2 0h3m-22 1h1m1 0h1m1 0h1m2 0h4m1 0h1m1 0h2m2 0h1m1 0h2m-21 1h1m1 0h1m2 0h3m1 0h1m1 0h3m2 0h2m1 0h2m-17 1h4m1 0h1m1 0h2m2 0h3m1 0h2m1 0h5m-24 1h5m1 0h3m2 0h2m1 0h1m1 0h3m2 0h3m-22 1h1m1 0h1m1 0h2m2 0h3m1 0h1m1 0h2m2 0h1m1 0h2m-21 1h1m1 0h2m2 0h4m1 0h1m1 0h1m2 0h2m1 0h2m-20 1h2m2 0h3m1 0h1m1 0h2m2 0h3m1 0h2m-17 1h4m1 0h1m1 0h1m2 0h2m1 0h1m1 0h2m-17 1h4m1 0h2m2 0h3m1 0h1m1 0h1m-14 1h1m1 0h2m2 0h4m1 0h1m-11 1h2m2 0h3m1 0h1m1 0h1m-8 1h4m1 0h1m-6 1h4m1 0h1m-4 1h1" stroke="#000" fill="none" stroke-width="1" transform="translate(0,0.5)" />
<polygon points="155,546 311,657 311,673 285,699 130,588 130,571" fill="#fff"/>
<path d="M155 546h1m-2 1h1m1 0h2m-5 1h1m4 0h1m-7 1h1m6 0h1m-9 1h1m8 0h2m-12 1h1m11 0h1m-14 1h1m13 0h2m-17 1h1m16 0h1m-19 1h1m18 0h1m-21 1h1m20 0h2m-24 1h1m23 0h1m-26 1h1m25 0h2m-29 1h1m28 0h1m-31 1h1m30 0h1m-33 1h1m32 0h2m-36 1h1m35 0h1m-38 1h1m37 0h2m-41 1h1m40 0h1m-43 1h1m42 0h2m-46 1h1m45 0h1m-48 1h1m47 0h1m-50 1h1m49 0h2m-53 1h1m52 0h1m-55 1h1m54 0h2m-58 1h1m57 0h1m-60 1h1m59 0h1m-61 1h3m58 0h2m-63 1h1m2 0h1m59 0h1m-64 1h1m3 0h1m59 0h2m-66 1h1m4 0h2m59 0h1m-67 1h1m6 0h1m59 0h1m-68 1h1m7 0h1m59 0h2m-70 1h1m8 0h2m59 0h1m-71 1h1m10 0h1m59 0h2m-73 1h1m11 0h2m59 0h1m-74 1h1m13 0h1m59 0h1m-75 1h1m5 0h1m8 0h1m59 0h2m-77 1h1m4 0h1m10 0h2m59 0h1m-78 1h1m3 0h1m13 0h1m59 0h2m-80 1h1m2 0h1m15 0h2m59 0h1m-81 1h1m1 0h1m18 0h1m59 0h1m-82 1h2m20 0h1m59 0h2m-84 1h1m22 0h2m59 0h1m-84 1h2m22 0h1m59 0h2m-84 1h1m22 0h1m60 0h1m-84 1h1m22 0h2m59 0h1m-84 1h2m22 0h1m59 0h2m-84 1h1m22 0h2m59 0h1m-84 1h2m22 0h1m59 0h2m-84 1h1m22 0h1m60 0h1m-84 1h1m22 0h2m59 0h1m-84 1h2m22 0h1m59 0h2m-84 1h1m22 0h2m59 0h1m-84 1h2m22 0h1m59 0h2m-84 1h1m22 0h1m60 0h1m-84 1h1m22 0h2m59 0h2m-85 1h2m22 0h1m60 0h1m-84 1h1m22 0h1m60 0h1m-84 1h2m21 0h2m59 0h2m-84 1h1m22 0h1m60 0h1m-84 1h1m22 0h2m59 0h2m-85 1h2m22 0h1m60 0h1m-84 1h1m22 0h1m60 0h1m-84 1h2m21 0h2m59 0h2m-84 1h1m22 0h1m60 0h1m-84 1h1m22 0h2m59 0h2m-85 1h2m22 0h1m60 0h1m-84 1h1m22 0h1m60 0h1m-84 1h2m21 0h2m59 0h2m-84 1h1m22 0h1m60 0h1m-84 1h1m22 0h1m60 0h2m-85 1h2m21 0h2m60 0h1m-84 1h1m22 0h1m60 0h1m-84 1h1m22 0h2m59 0h2m-85 1h2m22 0h1m60 0h1m-84 1h1m22 0h1m60 0h2m-85 1h2m21 0h2m60 0h1m-84 1h1m22 0h1m60 0h1m-84 1h1m22 0h2m59 0h2m-85 1h2m22 0h1m60 0h1m-84 1h1m22 0h1m60 0h2m-85 1h2m21 0h2m60 0h1m-84 1h1m22 0h1m60 0h1m-84 1h1m22 0h1m60 0h2m-85 1h2m21 0h2m60 0h1m-84 1h1m22 0h1m60 0h2m-85 1h2m21 0h2m60 0h1m-84 1h1m22 0h1m60 0h1m-84 1h1m22 0h1m60 0h2m-85 1h2m21 0h2m60 0h1m-84 1h1m22 0h1m60 0h2m-85 1h2m21 0h2m60 0h1m-84 1h1m22 0h1m60 0h2m-85 1h1m22 0h1m61 0h1m-85 1h2m21 0h2m60 0h1m-84 1h1m22 0h1m60 0h2m-85 1h2m21 0h1m61 0h1m-84 1h1m21 0h2m60 0h2m-85 1h1m22 0h1m61 0h1m-85 1h2m21 0h2m60 0h1m-84 1h1m22 0h1m60 0h2m-85 1h2m21 0h1m61 0h1m-84 1h1m21 0h2m60 0h2m-85 1h1m22 0h1m61 0h1m-85 1h2m21 0h2m60 0h1m-84 1h1m22 0h1m60 0h2m-85 1h2m21 0h1m61 0h1m-84 1h1m21 0h2m60 0h2m-85 1h1m22 0h1m61 0h1m-85 1h2m21 0h1m61 0h1m-84 1h1m21 0h2m60 0h2m-85 1h2m21 0h1m61 0h1m-84 1h1m21 0h2m58 0h2m-83 1h1m22 0h1m56 0h1m1 0h1m-82 1h2m21 0h1m54 0h1m2 0h1m-80 1h1m21 0h2m51 0h1m3 0h1m-79 1h2m21 0h1m49 0h1m4 0h1m-77 1h1m21 0h2m46 0h1m5 0h1m-76 1h1m22 0h1m44 0h1m6 0h1m-75 1h2m21 0h1m42 0h1m7 0h1m-73 1h1m21 0h2m39 0h1m8 0h1m-72 1h2m21 0h1m37 0h1m9 0h1m-70 1h1m21 0h1m35 0h1m10 0h1m-69 1h1m21 0h2m32 0h1m11 0h1m-68 1h2m21 0h1m30 0h1m12 0h1m-66 1h1m21 0h2m27 0h1m13 0h1m-65 1h1m22 0h1m25 0h1m14 0h1m-64 1h2m21 0h1m23 0h1m15 0h1m-62 1h1m21 0h2m20 0h1m15 0h1m-60 1h2m21 0h1m18 0h1m15 0h1m-57 1h1m21 0h2m15 0h1m15 0h1m-55 1h1m22 0h1m13 0h1m15 0h1m-53 1h2m21 0h1m11 0h1m15 0h1m-50 1h1m21 0h2m8 0h1m15 0h1m-48 1h2m21 0h1m6 0h1m15 0h1m-45 1h1m21 0h1m4 0h1m15 0h1m-43 1h1m21 0h2m1 0h1m15 0h1m-41 1h2m21 0h1m15 0h1m-38 1h1m20 0h1m14 0h1m-36 1h2m18 0h1m13 0h1m-33 1h1m17 0h1m12 0h1m-31 1h1m16 0h1m11 0h1m-29 1h2m14 0h1m10 0h1m-26 1h1m13 0h1m9 0h1m-24 1h2m11 0h1m8 0h1m-21 1h1m10 0h1m7 0h1m-19 1h1m9 0h1m6 0h1m-17 1h2m7 0h1m5 0h1m-14 1h1m6 0h1m4 0h1m-12 1h2m4 0h1m3 0h1m-9 1h1m3 0h1m2 0h1m-7 1h1m2 0h1m1 0h1m-5 1h4m-2 1h1" stroke="#000" fill="none" stroke-width="1" transform="translate(0,0.5)" />
<path d="M140 579h1m-2 1h1m1 0h1m-4 1h1m2 0h2m-6 1h1m2 0h2m1 0h2m-9 1h1m2 0h2m1 0h2m1 0h1m-11 1h1m2 0h2m1 0h2m1 0h1m1 0h1m-12 1h1m1 0h2m1 0h2m1 0h1m1 0h1m-11 1h3m1 0h2m1 0h1m1 0h1m-10 1h5m1 0h1m1 0h1m-8 1h3m1 0h1m1 0h1m-6 1h1m1 0h1m1 0h1m-2 1h1" stroke="#000" fill="none" stroke-width="1" transform="translate(0,0.5)" />
<path d="M146 583h1m-2 1h1m1 0h1m-4 1h1m2 0h2m-6 1h1m2 0h2m1 0h1m-8 1h1m2 0h2m1 0h1m-8 1h1m2 0h2m1 0h1m-8 1h1m2 0h2m1 0h1m-7 1h1m1 0h2m1 0h1m-6 1h3m1 0h1m-5 1h4m-3 1h3m-2 1h1" stroke="#000" fill="none" stroke-width="1" transform="translate(0,0.5)" />
<path d="M152 588h1m-2 1h1m1 0h1m-4 1h1m2 0h2m-6 1h1m2 0h2m1 0h1m-8 1h1m2 0h2m1 0h1m-8 1h1m2 0h2m1 0h1m-8 1h1m2 0h2m1 0h1m-7 1h1m1 0h2m1 0h1m-6 1h3m1 0h1m-5 1h4m-3 1h3m-2 1h1" stroke="#000" fill="none" stroke-width="1" transform="translate(0,0.5)" />
<path d="M158 592h1m-2 1h1m1 0h1m-4 1h1m2 0h2m-6 1h1m2 0h2m1 0h1m-8 1h1m2 0h2m1 0h1m-8 1h1m2 0h2m1 0h1m-7 1h1m1 0h2m1 0h1m-6 1h3m1 0h1m-5 1h4m-3 1h3m-2 1h1" stroke="#000" fill="none" stroke-width="1" transform="translate(0,0.5)" />
<path d="M164 596h1m-2 1h1m1 0h1m-4 1h1m2 0h2m-6 1h1m2 0h2m1 0h1m-8 1h1m2 0h2m1 0h1m-8 1h1m2 0h2m1 0h1m-8 1h1m2 0h2m1 0h1m-7 1h1m1 0h2m1 0h1m-6 1h3m1 0h1m-5 1h4m-3 1h3m-2 1h1" stroke="#000" fill="none" stroke-width="1" transform="translate(0,0.5)" />
<path d="M170 600h1m-2 1h1m1 0h1m-4 1h1m2 0h2m-6 1h1m2 0h2m1 0h1m-8 1h1m2 0h2m1 0h1m-8 1h1m2 0h2m1 0h1m-8 1h1m2 0h2m1 0h1m-7 1h1m1 0h2m1 0h1m-6 1h3m1 0h1m-5 1h4m-3 1h3m-2 1h1" stroke="#000" fill="none" stroke-width="1" transform="translate(0,0.5)" />
<path d="M176 605h1m-2 1h1m1 0h1m-4 1h1m2 0h2m-6 1h1m2 0h2m1 0h2m-9 1h1m2 0h2m1 0h2m1 0h1m-11 1h1m2 0h2m1 0h2m1 0h1m1 0h1m-12 1h1m1 0h2m1 0h2m1 0h1m1 0h1m-11 1h3m1 0h2m1 0h1m1 0h1m-10 1h5m1 0h1m1 0h1m-8 1h3m1 0h1m1 0h1m-6 1h1m1 0h1m1 0h1m-2 1h1" stroke="#000" fill="none" stroke-width="1" transform="translate(0,0.5)" />
<path d="M182 609h1m-2 1h1m1 0h1m-4 1h1m2 0h2m-6 1h1m2 0h2m1 0h1m-8 1h1m2 0h2m1 0h1m-8 1h1m2 0h2m1 0h1m-8 1h1m2 0h2m1 0h1m-7 1h1m1 0h2m1 0h1m-6 1h3m1 0h1m-5 1h4m-3 1h3m-2 1h1" stroke="#000" fill="none" stroke-width="1" transform="translate(0,0.5)" />
<path d="M188 613h1m-2 1h1m1 0h1m-4 1h1m2 0h2m-6 1h1m2 0h2m1 0h1m-8 1h1m2 0h2m1 0h1m-8 1h1m2 0h2m1 0h1m-8 1h1m2 0h2m1 0h1m-7 1h1m1 0h2m1 0h1m-6 1h3m1 0h1m-5 1h4m-3 1h3m-2 1h1" stroke="#000" fill="none" stroke-width="1" transform="translate(0,0.5)" />
<path d="M194 618h1m-2 1h1m1 0h1m-4 1h1m2 0h2m-6 1h1m2 0h2m1 0h1m-8 1h1m2 0h2m1 0h1m-8 1h1m2 0h2m1 0h1m-7 1h1m1 0h2m1 0h1m-6 1h3m1 0h1m-5 1h4m-3 1h3m-2 1h1" stroke="#000" fill="none" stroke-width="1" transform="translate(0,0.5)" />
<path d="M200 622h1m-2 1h1m1 0h1m-4 1h1m2 0h2m-6 1h1m2 0h2m1 0h1m-8 1h1m2 0h2m1 0h1m-8 1h1m2 0h2m1 0h1m-8 1h1m2 0h2m1 0h1m-7 1h1m1 0h2m1 0h1m-6 1h3m1 0h1m-5 1h4m-3 1h3m-2 1h1" stroke="#000" fill="none" stroke-width="1" transform="translate(0,0.5)" />
<path d="M205 626h1m-2 1h1m1 0h1m-4 1h1m2 0h2m-6 1h1m2 0h2m1 0h1m-8 1h1m2 0h2m1 0h1m-8 1h1m2 0h2m1 0h1m-8 1h1m2 0h2m1 0h1m-7 1h1m1 0h2m1 0h1m-6 1h3m1 0h1m-5 1h4m-3 1h3m-2 1h1" stroke="#000" fill="none" stroke-width="1" transform="translate(0,0.5)" />
<path d="M211 631h1m-2 1h1m1 0h1m-4 1h1m2 0h2m-6 1h1m2 0h2m1 0h1m-8 1h1m2 0h2m1 0h1m-8 1h1m2 0h2m1 0h1m-7 1h1m1 0h2m1 0h1m-6 1h3m1 0h1m-5 1h4m-3 1h3m-2 1h1" stroke="#000" fill="none" stroke-width="1" transform="translate(0,0.5)" />
<path d="M217 635h1m-2 1h1m1 0h1m-4 1h1m2 0h2m-6 1h1m2 0h2m1 0h1m-8 1h1m2 0h2m1 0h1m-8 1h1m2 0h2m1 0h1m-8 1h1m2 0h2m1 0h1m-7 1h1m1 0h2m1 0h1m-6 1h3m1 0h1m-5 1h4m-3 1h3m-2 1h1" stroke="#000" fill="none" stroke-width="1" transform="translate(0,0.5)" />
<path d="M223 639h1m-2 1h1m1 0h1m-4 1h1m2 0h2m-6 1h1m2 0h2m1 0h1m-8 1h1m2 0h2m1 0h1m-8 1h1m2 0h2m1 0h1m-8 1h1m2 0h2m1 0h1m-7 1h1m1 0h2m1 0h1m-6 1h3m1 0h1m-5 1h4m-3 1h3m-2 1h1" stroke="#000" fill="none" stroke-width="1" transform="translate(0,0.5)" />
<path d="M229 644h1m-2 1h1m1 0h1m-4 1h1m2 0h2m-6 1h1m2 0h2m1 0h2m-9 1h1m2 0h2m1 0h2m1 0h1m-11 1h1m2 0h2m1 0h2m1 0h1m1 0h1m-12 1h1m1 0h2m1 0h2m1 0h1m1 0h1m-11 1h3m1 0h2m1 0h1m1 0h1m-10 1h5m1 0h1m1 0h1m-8 1h3m1 0h1m1 0h1m-6 1h1m1 0h1m1 0h1m-2 1h1" stroke="#000" fill="none" stroke-width="1" transform="translate(0,0.5)" />
<path d="M235 648h1m-2 1h1m1 0h1m-4 1h1m2 0h2m-6 1h1m2 0h2m1 0h1m-8 1h1m2 0h2m1 0h1m-8 1h1m2 0h2m1 0h1m-8 1h1m2 0h2m1 0h1m-7 1h1m1 0h2m1 0h1m-6 1h3m1 0h1m-5 1h4m-3 1h3m-2 1h1" stroke="#000" fill="none" stroke-width="1" transform="translate(0,0.5)" />
<path d="M241 652h1m-2 1h1m1 0h1m-4 1h1m2 0h2m-6 1h1m2 0h2m1 0h1m-8 1h1m2 0h2m1 0h1m-8 1h1m2 0h2m1 0h1m-8 1h1m2 0h2m1 0h1m-7 1h1m1 0h2m1 0h1m-6 1h3m1 0h1m-5 1h4m-3 1h3m-2 1h1" stroke="#000" fill="none" stroke-width="1" transform="translate(0,0.5)" />
<path d="M247 656h1m-2 1h1m1 0h1m-4 1h1m2 0h2m-6 1h1m2 0h2m1 0h2m-9 1h1m2 0h2m1 0h2m1 0h1m-11 1h1m2 0h2m1 0h2m1 0h1m1 0h1m-12 1h1m1 0h2m1 0h2m1 0h1m1 0h1m-11 1h3m1 0h2m1 0h1m1 0h1m-10 1h5m1 0h1m1 0h1m-8 1h3m1 0h1m1 0h1m-6 1h1m1 0h1m1 0h1m-2 1h1" stroke="#000" fill="none" stroke-width="1" transform="translate(0,0.5)" />
<path d="M253 661h1m-2 1h1m1 0h1m-4 1h1m2 0h2m-6 1h1m2 0h2m1 0h1m-8 1h1m2 0h2m1 0h1m-8 1h1m2 0h2m1 0h1m-8 1h1m2 0h2m1 0h1m-7 1h1m1 0h2m1 0h1m-6 1h3m1 0h1m-5 1h4m-3 1h3m-2 1h1" stroke="#000" fill="none" stroke-width="1" transform="translate(0,0.5)" />
<path d="M258 665h1m-2 1h1m1 0h1m-4 1h1m2 0h2m-6 1h1m2 0h2m1 0h1m-8 1h1m2 0h2m1 0h1m-8 1h1m2 0h2m1 0h1m-8 1h1m2 0h2m1 0h1m-7 1h1m1 0h2m1 0h1m-6 1h3m1 0h1m-5 1h4m-3 1h3m-2 1h1" stroke="#000" fill="none" stroke-width="1" transform="translate(0,0.5)" />
<path d="M264 669h1m-2 1h1m1 0h1m-4 1h1m2 0h2m-6 1h1m2 0h2m1 0h2m-9 1h1m2 0h2m1 0h2m1 0h1m-11 1h1m2 0h2m1 0h2m1 0h1m1 0h1m-12 1h1m1 0h2m1 0h2m1 0h1m1 0h1m-11 1h3m1 0h2m1 0h1m1 0h1m-10 1h5m1 0h1m1 0h1m-8 1h3m1 0h1m1 0h1m-6 1h1m1 0h1m1 0h1m-2 1h1" stroke="#000" fill="none" stroke-width="1" transform="translate(0,0.5)" />
<path d="M270 674h1m-2 1h1m1 0h1m-4 1h1m2 0h2m-6 1h1m2 0h2m1 0h1m-8 1h1m2 0h2m1 0h1m-8 1h1m2 0h2m1 0h1m-8 1h1m2 0h2m1 0h1m-7 1h1m1 0h2m1 0h1m-6 1h3m1 0h1m-5 1h4m-3 1h3m-2 1h1" stroke="#000" fill="none" stroke-width="1" transform="translate(0,0.5)" />
<path d="M276 678h1m-2 1h1m1 0h1m-4 1h1m2 0h2m-6 1h1m2 0h2m1 0h1m-8 1h1m2 0h2m1 0h1m-8 1h1m2 0h2m1 0h1m-8 1h1m2 0h2m1 0h1m-7 1h1m1 0h2m1 0h1m-6 1h3m1 0h1m-5 1h4m-3 1h3m-2 1h1" stroke="#000" fill="none" stroke-width="1" transform="translate(0,0.5)" />
<path d="M282 682h1m-2 1h1m1 0h1m-4 1h1m2 0h2m-6 1h1m2 0h2m1 0h1m-8 1h1m2 0h2m1 0h1m-8 1h1m2 0h2m1 0h1m-7 1h1m1 0h2m1 0h1m-6 1h3m1 0h1m-5 1h4m-3 1h3m-2 1h1" stroke="#000" fill="none" stroke-width="1" transform="translate(0,0.5)" />
<polygon points="149,556 192,586 184,595 144,566 144,562" fill="#fff"/>
<path d="M149 557h1m-2 1h1m-2 1h1m-2 1h1m-3 1h2m-3 1h4m-3 1h4m-4 1h5m-2 1h4m-3 1h4m-3 1h4m-2 1h4m-3 1h4m-3 1h4m-2 1h4m-3 1h4m-3 1h4m-2 1h4m-3 1h4m-3 1h4m-2 1h4m-3 1h4m-3 1h4m-2 1h4m-3 1h4m-3 1h4m-2 1h4m-3 1h4m-3 1h4m-2 1h4m-3 1h4m-3 1h4m10 0h1m-13 1h4m6 0h2m-11 1h4m4 0h1m-8 1h4m2 0h1m-5 1h1m1 0h2m-3 1h1" stroke="#000" fill="none" stroke-width="1" transform="translate(0,0.5)" />
<path d="M146 563h1m0 1h1m1 2h2m0 1h1m1 2h2m0 1h1m1 2h2m0 1h1m1 2h2m0 1h1m1 2h2m0 1h1m1 2h2m0 1h1m1 2h2m0 1h1m1 2h2m0 1h1m1 2h2m0 1h1" stroke="#fff" fill="none" stroke-width="1" transform="translate(0,0.5)" />
<polygon points="153,550 195,580 195,583 191,587 149,557 149,555" fill="#000"/>
<path d="M156 553h2m-1 1h1m2 1h2m-1 1h1m-10 1h2m10 1h2m-11 1h1m9 0h1m-10 1h1m1 1h1m9 0h2m-11 1h1m9 0h1m-9 1h1m0 1h1m9 0h2m-1 1h1m-10 1h2m10 1h2m-11 1h1m9 0h1m-10 1h1m1 1h1m9 0h2m-11 1h1m9 0h1m-9 1h1m0 1h1m9 0h2m-10 1h1m8 0h1m-9 1h1m10 0h2m-1 1h1m-11 1h2m11 1h2m-12 1h1m10 0h1m-11 1h1m1 1h1m0 1h1m1 1h1m0 1h1" stroke="#fff" fill="none" stroke-width="1" transform="translate(0,0.5)" />
<polygon points="135,572 142,566 141,570 138,574" fill="#000"/>
<polygon points="141,577 144,568 145,573 144,578" fill="#000"/>
<polygon points="201,592 244,622 236,631 196,602 196,598" fill="#fff"/>
<path d="M201 593h1m-2 1h1m-2 1h1m-2 1h1m-3 1h2m-3 1h4m-3 1h4m-4 1h5m-2 1h4m-3 1h4m-3 1h4m-2 1h4m-3 1h4m-3 1h4m-2 1h4m-3 1h4m-3 1h4m-2 1h4m-3 1h4m-3 1h4m-2 1h4m-3 1h4m-3 1h4m-2 1h4m-3 1h4m-3 1h4m-2 1h4m-3 1h4m-3 1h4m-2 1h4m-3 1h4m-3 1h4m10 0h1m-13 1h4m6 0h2m-11 1h4m4 0h1m-8 1h4m2 0h1m-5 1h1m1 0h2m-3 1h1" stroke="#000" fill="none" stroke-width="1" transform="translate(0,0.5)" />
<path d="M198 599h1m0 1h1m1 2h2m0 1h1m1 2h2m0 1h1m1 2h2m0 1h1m1 2h2m0 1h1m1 2h2m0 1h1m1 2h2m0 1h1m1 2h2m0 1h1m1 2h2m0 1h1m1 2h2m0 1h1" stroke="#fff" fill="none" stroke-width="1" transform="translate(0,0.5)" />
<polygon points="205,586 247,616 247,619 243,623 201,593 201,591" fill="#000"/>
<path d="M208 589h2m-1 1h1m2 1h2m-1 1h1m-10 1h2m10 1h2m-11 1h1m9 0h1m-10 1h1m1 1h1m9 0h2m-11 1h1m9 0h1m-9 1h1m0 1h1m9 0h2m-1 1h1m-10 1h2m10 1h2m-11 1h1m9 0h1m-10 1h1m1 1h1m9 0h2m-11 1h1m9 0h1m-9 1h1m0 1h1m9 0h2m-10 1h1m8 0h1m-9 1h1m10 0h2m-1 1h1m-11 1h2m11 1h2m-12 1h1m10 0h1m-11 1h1m1 1h1m0 1h1m1 1h1m0 1h1" stroke="#fff" fill="none" stroke-width="1" transform="translate(0,0.5)" />
<polygon points="187,608 194,602 193,606 190,610" fill="#000"/>
<polygon points="193,613 196,604 197,609 196,614" fill="#000"/>
<polygon points="252,629 295,659 287,668 247,639 247,635" fill="#fff"/>
<path d="M252 630h1m-2 1h1m-2 1h1m-2 1h1m-3 1h2m-3 1h4m-3 1h4m-4 1h5m-2 1h4m-3 1h4m-3 1h4m-2 1h4m-3 1h4m-3 1h4m-2 1h4m-3 1h4m-3 1h4m-2 1h4m-3 1h4m-3 1h4m-2 1h4m-3 1h4m-3 1h4m-2 1h4m-3 1h4m-3 1h4m-2 1h4m-3 1h4m-3 1h4m-2 1h4m-3 1h4m-3 1h4m10 0h1m-13 1h4m6 0h2m-11 1h4m4 0h1m-8 1h4m2 0h1m-5 1h1m1 0h2m-3 1h1" stroke="#000" fill="none" stroke-width="1" transform="translate(0,0.5)" />
<path d="M249 636h1m0 1h1m1 2h2m0 1h1m1 2h2m0 1h1m1 2h2m0 1h1m1 2h2m0 1h1m1 2h2m0 1h1m1 2h2m0 1h1m1 2h2m0 1h1m1 2h2m0 1h1m1 2h2m0 1h1" stroke="#fff" fill="none" stroke-width="1" transform="translate(0,0.5)" />
<polygon points="256,623 298,653 298,656 294,660 252,630 252,628" fill="#000"/>
<path d="M259 626h2m-1 1h1m2 1h2m-1 1h1m-10 1h2m10 1h2m-11 1h1m9 0h1m-10 1h1m1 1h1m9 0h2m-11 1h1m9 0h1m-9 1h1m0 1h1m9 0h2m-1 1h1m-10 1h2m10 1h2m-11 1h1m9 0h1m-10 1h1m1 1h1m9 0h2m-11 1h1m9 0h1m-9 1h1m0 1h1m9 0h2m-10 1h1m8 0h1m-9 1h1m10 0h2m-1 1h1m-11 1h2m11 1h2m-12 1h1m10 0h1m-11 1h1m1 1h1m0 1h1m1 1h1m0 1h1" stroke="#fff" fill="none" stroke-width="1" transform="translate(0,0.5)" />
<polygon points="238,645 245,639 244,643 241,647" fill="#000"/>
<polygon points="244,650 247,641 248,646 247,651" fill="#000"/>
</g>
<g id="label-term">
<rect x="220" y="516" width="103" height="19" rx="4" ry="4" fill="#000"/>
<rect x="222" y="518" width="99" height="14" rx="2.5" ry="2.5" fill="#fff"/>
<text transform="translate(224,530) scale(0.8,1)" x="0" y="0" font-size="14" textLength="116.2" lengthAdjust="spacing">TERMINATORS</text>
<rect x="234" y="531" width="8" height="4" fill="#fff"/>
<rect x="267" y="531" width="7" height="4" fill="#fff"/>
<rect x="299" y="531" width="7" height="4" fill="#fff"/>
<polygon points="231,534 244,534 190,557" fill="#fff"/>
<path d="M231 534h2m10 0h3m-17 1h3m9 0h4m-18 1h4m7 0h5m-18 1h4m7 0h5m-18 1h4m6 0h5m-17 1h4m6 0h5m-17 1h4m5 0h5m-16 1h4m5 0h5m-16 1h4m4 0h5m-15 1h4m4 0h5m-15 1h4m3 0h5m-13 1h3m3 0h5m-13 1h3m2 0h5m-12 1h4m1 0h5m-12 1h9m-11 1h9m-11 1h8m-10 1h8m-10 1h7m-9 1h7m-9 1h6m-8 1h6m-7 1h4m-4 1h2" stroke="#000" fill="none" stroke-width="1" transform="translate(0,0.5)" />
<polygon points="265,534 276,534 230,598" fill="#fff"/>
<path d="M276 533h1m-12 1h2m8 0h3m-14 1h2m8 0h3m-13 1h2m8 0h3m-14 1h2m8 0h3m-13 1h2m7 0h3m-13 1h2m7 0h3m-12 1h2m7 0h3m-13 1h2m7 0h3m-13 1h2m7 0h3m-12 1h2m6 0h3m-12 1h2m7 0h3m-12 1h2m6 0h3m-12 1h2m6 0h3m-11 1h2m5 0h3m-11 1h2m6 0h3m-12 1h2m6 0h3m-11 1h2m5 0h3m-11 1h2m5 0h3m-10 1h2m5 0h3m-11 1h2m5 0h3m-10 1h2m4 0h3m-10 1h2m4 0h3m-10 1h2m5 0h3m-10 1h2m4 0h3m-10 1h2m4 0h3m-9 1h2m3 0h3m-9 1h2m4 0h3m-9 1h2m3 0h3m-9 1h2m3 0h3m-9 1h2m3 0h3m-8 1h2m3 0h3m-9 1h2m3 0h3m-8 1h2m2 0h3m-8 1h2m2 0h3m-7 1h2m2 0h3m-8 1h2m2 0h3m-8 1h2m2 0h3m-7 1h2m1 0h3m-7 1h2m2 0h3m-7 1h2m1 0h3m-7 1h2m1 0h3m-6 1h5m-6 1h2m1 0h3m-7 1h2m1 0h3m-6 1h5m-6 1h5m-5 1h5m-6 1h5m-5 1h4m-5 1h4m-5 1h5m-5 1h4m-5 1h4m-4 1h3m-4 1h4m-4 1h3m-4 1h3m-4 1h3m-3 1h3m-4 1h3m-4 1h3m-4 1h3m-3 1h3m-4 1h3m-2 1h1" stroke="#000" fill="none" stroke-width="1" transform="translate(0,0.5)" />
<polygon points="297,534 308,534 283,637" fill="#fff"/>
<path d="M308 533h1m-12 1h2m8 0h3m-13 1h2m8 0h3m-13 1h2m7 0h3m-12 1h2m7 0h3m-13 1h2m8 0h3m-13 1h2m8 0h3m-13 1h2m7 0h3m-12 1h2m7 0h3m-12 1h2m7 0h3m-12 1h2m7 0h3m-12 1h2m6 0h3m-12 1h2m7 0h3m-12 1h2m7 0h3m-12 1h2m7 0h3m-12 1h2m6 0h3m-11 1h2m6 0h3m-11 1h2m6 0h3m-11 1h2m6 0h3m-12 1h2m6 0h3m-11 1h2m6 0h3m-11 1h2m6 0h3m-11 1h2m6 0h3m-11 1h2m5 0h3m-10 1h2m5 0h3m-11 1h2m6 0h3m-11 1h2m6 0h3m-11 1h2m5 0h3m-10 1h2m5 0h3m-10 1h2m5 0h3m-10 1h2m5 0h3m-10 1h2m4 0h3m-10 1h2m5 0h3m-10 1h2m5 0h3m-10 1h2m5 0h3m-10 1h2m4 0h3m-9 1h2m4 0h3m-9 1h2m4 0h3m-9 1h2m4 0h3m-10 1h2m4 0h3m-9 1h2m4 0h3m-9 1h2m4 0h3m-9 1h2m4 0h3m-9 1h2m3 0h3m-8 1h2m3 0h3m-8 1h2m3 0h3m-9 1h2m4 0h3m-9 1h2m3 0h3m-8 1h2m3 0h3m-8 1h2m3 0h3m-8 1h2m3 0h3m-8 1h2m2 0h3m-7 1h2m2 0h3m-8 1h2m3 0h3m-8 1h2m2 0h3m-7 1h2m2 0h3m-7 1h2m2 0h3m-7 1h2m2 0h3m-7 1h2m1 0h3m-7 1h2m2 0h3m-7 1h2m2 0h3m-7 1h2m2 0h3m-7 1h2m1 0h3m-6 1h2m1 0h3m-6 1h2m1 0h3m-6 1h2m1 0h3m-7 1h2m1 0h3m-6 1h2m1 0h3m-6 1h2m1 0h3m-6 1h2m1 0h3m-6 1h5m-5 1h5m-5 1h5m-6 1h2m1 0h3m-6 1h5m-5 1h5m-5 1h5m-5 1h5m-5 1h4m-4 1h4m-5 1h5m-5 1h5m-5 1h4m-4 1h4m-4 1h4m-4 1h4m-4 1h3m-4 1h4m-4 1h4m-4 1h4m-4 1h3m-3 1h3m-3 1h3m-4 1h4m-4 1h3m-3 1h3m-3 1h3m-3 1h3m-4 1h3m-3 1h3m-3 1h3m-3 1h3m-4 1h3m-3 1h3m-2 1h1" stroke="#000" fill="none" stroke-width="1" transform="translate(0,0.5)" />
</g>
<g id="label-if">
<polygon points="191,662 203,650 206,650 206,652 196,665" fill="#000"/>
<path d="M199 657h1m-2 1h1m-2 1h1m-1 1h1m-2 1h1m-2 1h1" stroke="#fff" fill="none" stroke-width="1" transform="translate(0,0.5)" />
<rect x="114" y="661" width="82" height="19" rx="4" ry="4" fill="#000"/>
<rect x="116" y="663" width="78" height="14" rx="2.5" ry="2.5" fill="#fff"/>
<text transform="translate(120,674) scale(0.8,1)" x="0" y="0" font-size="14" textLength="90.0" lengthAdjust="spacing">INTERFACE</text>
</g>
<g id="label-jp1">
<polygon points="76,578 86,567 88,566 89,568 79,580" fill="#000"/>
<path d="M82 574h1m-2 1h1m-2 1h1m-2 1h1" stroke="#fff" fill="none" stroke-width="1" transform="translate(0,0.5)" />
<rect x="44" y="577" width="36" height="19" rx="4" ry="4" fill="#000"/>
<rect x="46" y="579" width="32" height="14" rx="2.5" ry="2.5" fill="#fff"/>
<text transform="translate(51,591) scale(0.8,1)" x="0" y="0" font-size="14" textLength="27.5" lengthAdjust="spacing">JP1</text>
</g>
</svg>
</body></html>
